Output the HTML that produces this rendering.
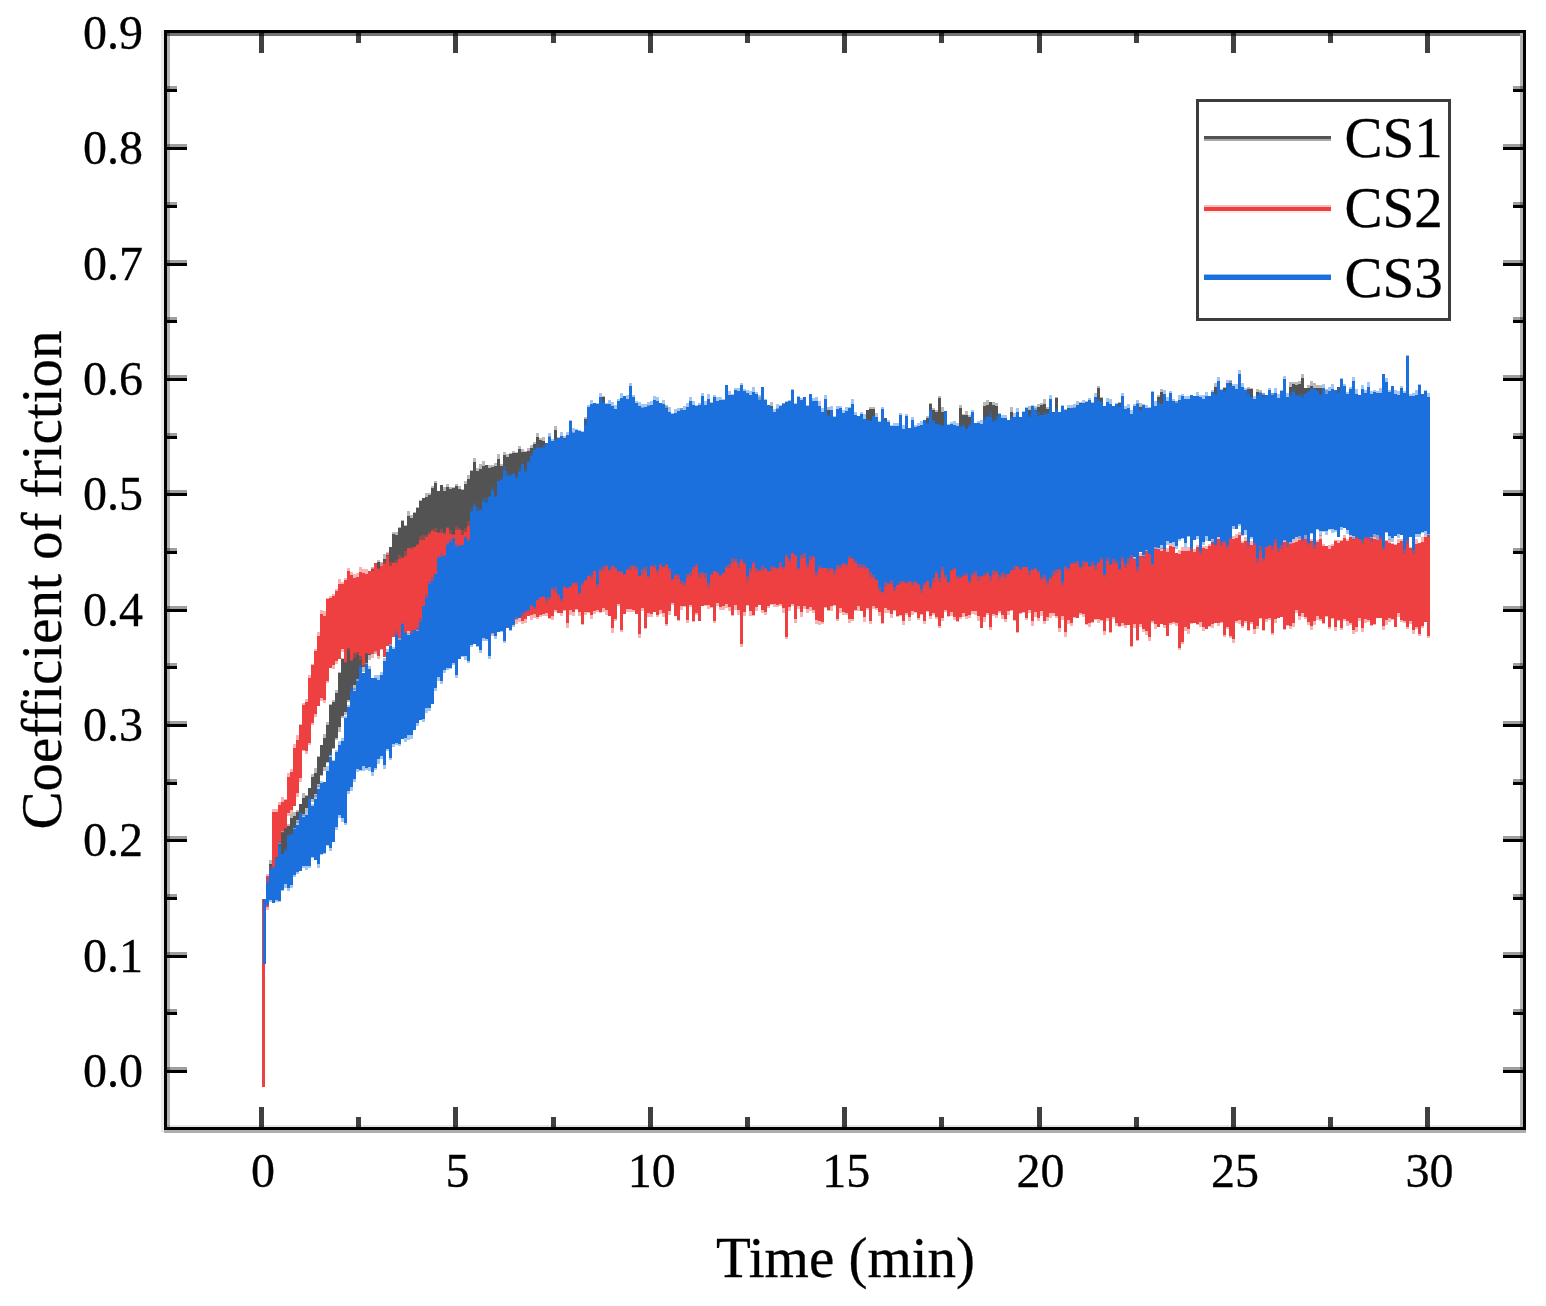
<!DOCTYPE html>
<html><head><meta charset="utf-8"><title>Coefficient of friction</title>
<style>html,body{margin:0;padding:0;background:#fff}svg{display:block}</style></head>
<body><svg width="1546" height="1306" viewBox="0 0 1546 1306" shape-rendering="crispEdges">
<rect width="1546" height="1306" fill="#fff"/>
<g><rect x="262" y="899" width="3" height="188" fill="#ee4040"/><rect x="263" y="899" width="3" height="65" fill="#1b70de"/><path fill="#535353" fill-opacity="0.4" d="M266.0,878.6H269.0V859.7H272.0V858.8H275.0V849.3H278.0V843.2H281.0V828.2H284.0V814.8H287.0V823.5H290.0V814.3H293.0V811.7H296.0V809.9H299.0V804.0H302.0V793.4H305.0V794.6H308.0V788.2H311.0V774.1H314.0V768.3H317.0V756.2H320.0V744.9H323.0V734.2H326.0V721.6H329.0V703.5H332.0V700.3H335.0V689.6H338.0V672.4H341.0V657.8H344.0V645.7H347.0V643.5H350.0V635.8H353.0V628.3H356.0V613.7H359.0V605.3H362.0V597.4H365.0V585.4H368.0V578.8H371.0V567.1H374.0V566.4H377.0V559.7H380.0V561.6H383.0V554.3H386.0V553.1H389.0V546.5H392.0V532.4H395.0V532.0H398.0V527.1H401.0V519.9H404.0V525.0H407.0V511.3H410.0V514.8H413.0V512.2H416.0V506.9H419.0V499.6H422.0V497.7H425.0V492.7H428.0V493.1H431.0V485.5H434.0V481.1H437.0V491.0H440.0V484.9H443.0V487.0H446.0V484.2H449.0V486.7H452.0V487.1H455.0V484.2H458.0V486.1H461.0V488.6H464.0V481.4H467.0V475.2H470.0V470.1H473.0V457.6H476.0V468.2H479.0V464.2H482.0V460.9H485.0V464.5H488.0V464.9H491.0V465.3H494.0V463.2H497.0V454.3H500.0V464.0H503.0V451.7H506.0V453.9H509.0V453.2H512.0V450.9H515.0V451.9H518.0V446.1H521.0V448.5H524.0V450.8H527.0V448.1H530.0V445.0H533.0V441.8H536.0V432.9H539.0V438.2H542.0V436.5H545.0V445.1H548.0V436.2H551.0V444.4H554.0V425.6H557.0V437.8H560.0V447.6H563.0V436.4H566.0V439.4H569.0V435.8H572.0V432.3H575.0V436.0H578.0V439.2H581.0V435.8H584.0V416.5H587.0V417.6H590.0V416.0H593.0V407.7H596.0V408.9H599.0V409.9H602.0V396.1H605.0V407.9H608.0V412.3H611.0V413.9H614.0V409.9H617.0V402.8H620.0V409.7H623.0V404.0H626.0V408.7H629.0V408.3H632.0V411.4H635.0V412.3H638.0V407.6H641.0V407.4H644.0V410.2H647.0V405.3H650.0V404.8H653.0V402.0H656.0V407.3H659.0V403.7H662.0V407.0H665.0V404.5H668.0V415.5H671.0V418.2H674.0V417.9H677.0V415.0H680.0V408.3H683.0V413.7H686.0V410.1H689.0V412.5H692.0V409.3H695.0V411.0H698.0V412.9H701.0V403.3H704.0V413.0H707.0V408.4H710.0V401.6H713.0V410.9H716.0V404.1H719.0V403.8H722.0V404.4H725.0V399.1H728.0V404.9H731.0V402.0H734.0V402.0H737.0V399.4H740.0V395.4H743.0V399.7H746.0V401.1H749.0V401.2H752.0V399.2H755.0V401.8H758.0V396.6H761.0V406.3H764.0V403.3H767.0V407.2H770.0V401.8H773.0V415.0H776.0V408.4H779.0V413.3H782.0V403.3H785.0V409.5H788.0V407.1H791.0V406.8H794.0V407.7H797.0V400.2H800.0V409.9H803.0V410.6H806.0V411.1H809.0V412.2H812.0V408.6H815.0V408.7H818.0V412.3H821.0V415.4H824.0V420.3H827.0V406.8H830.0V414.3H833.0V420.5H836.0V419.2H839.0V419.3H842.0V420.0H845.0V414.5H848.0V411.5H851.0V409.1H854.0V419.5H857.0V418.6H860.0V420.5H863.0V423.2H866.0V409.6H869.0V406.7H872.0V406.8H875.0V420.8H878.0V422.9H881.0V429.5H884.0V417.5H887.0V428.7H890.0V428.7H893.0V431.8H896.0V435.4H899.0V435.0H902.0V431.7H905.0V435.1H908.0V434.2H911.0V430.2H914.0V429.9H917.0V430.6H920.0V428.6H923.0V433.3H926.0V415.9H929.0V402.6H932.0V408.4H935.0V410.0H938.0V396.0H941.0V407.2H944.0V432.6H947.0V434.3H950.0V429.1H953.0V430.6H956.0V431.9H959.0V405.1H962.0V413.5H965.0V411.3H968.0V415.3H971.0V430.0H974.0V427.9H977.0V429.9H980.0V429.0H983.0V402.4H986.0V400.0H989.0V402.0H992.0V402.3H995.0V402.9H998.0V425.8H1001.0V420.5H1004.0V422.9H1007.0V424.0H1010.0V407.3H1013.0V424.0H1016.0V418.6H1019.0V420.1H1022.0V420.4H1025.0V422.0H1028.0V406.3H1031.0V408.3H1034.0V408.0H1037.0V404.1H1040.0V402.6H1043.0V399.2H1046.0V407.0H1049.0V400.6H1052.0V411.7H1055.0V396.8H1058.0V419.0H1061.0V410.5H1064.0V409.5H1067.0V407.6H1070.0V413.2H1073.0V406.5H1076.0V405.0H1079.0V402.4H1082.0V402.9H1085.0V404.9H1088.0V411.5H1091.0V406.5H1094.0V408.8H1097.0V386.3H1100.0V397.4H1103.0V412.5H1106.0V408.7H1109.0V403.7H1112.0V408.2H1115.0V412.5H1118.0V402.0H1121.0V417.4H1124.0V417.1H1127.0V409.6H1130.0V418.3H1133.0V420.8H1136.0V403.3H1139.0V402.7H1142.0V414.0H1145.0V411.5H1148.0V412.1H1151.0V407.7H1154.0V410.6H1157.0V394.8H1160.0V388.7H1163.0V412.1H1166.0V407.7H1169.0V402.4H1172.0V405.8H1175.0V401.4H1178.0V399.9H1181.0V401.1H1184.0V404.1H1187.0V399.8H1190.0V406.6H1193.0V399.2H1196.0V405.6H1199.0V399.0H1202.0V403.0H1205.0V403.2H1208.0V402.9H1211.0V397.6H1214.0V383.0H1217.0V398.7H1220.0V395.5H1223.0V387.1H1226.0V390.1H1229.0V380.0H1232.0V390.6H1235.0V393.7H1238.0V386.6H1241.0V386.9H1244.0V394.7H1247.0V387.0H1250.0V387.7H1253.0V399.6H1256.0V388.5H1259.0V390.1H1262.0V392.7H1265.0V399.1H1268.0V394.3H1271.0V392.6H1274.0V393.9H1277.0V403.3H1280.0V403.6H1283.0V396.8H1286.0V399.6H1289.0V381.7H1292.0V382.3H1295.0V381.5H1298.0V381.0H1301.0V373.8H1304.0V387.9H1307.0V384.7H1310.0V381.3H1313.0V382.8H1316.0V385.4H1319.0V385.2H1322.0V388.4H1325.0V390.3H1328.0V398.6H1331.0V394.1H1334.0V396.5H1337.0V387.1H1340.0V398.6H1343.0V400.1H1346.0V401.4H1349.0V397.5H1352.0V398.0H1355.0V394.9H1358.0V398.8H1361.0V402.4H1364.0V401.2H1367.0V395.3H1370.0V398.7H1373.0V398.8H1376.0V397.5H1379.0V396.5H1382.0V396.6H1385.0V390.5H1388.0V401.1H1391.0V394.6H1394.0V400.9H1397.0V397.7H1400.0V397.8H1403.0V399.0H1406.0V396.3H1409.0V396.5H1412.0V402.7H1415.0V404.5H1418.0V385.2H1421.0V400.4H1424.0V392.9H1427.0V406.3H1429.5V475.2H1427.0V470.7H1424.0V474.1H1421.0V475.8H1418.0V473.4H1415.0V470.1H1412.0V474.2H1409.0V476.5H1406.0V475.3H1403.0V474.2H1400.0V474.8H1397.0V470.4H1394.0V471.7H1391.0V469.4H1388.0V472.1H1385.0V473.7H1382.0V476.9H1379.0V472.3H1376.0V474.4H1373.0V474.1H1370.0V473.1H1367.0V476.5H1364.0V471.3H1361.0V472.2H1358.0V470.9H1355.0V475.5H1352.0V473.5H1349.0V471.9H1346.0V470.9H1343.0V473.4H1340.0V480.5H1337.0V470.4H1334.0V474.4H1331.0V472.8H1328.0V474.5H1325.0V474.7H1322.0V481.4H1319.0V471.1H1316.0V471.4H1313.0V478.1H1310.0V483.2H1307.0V470.5H1304.0V472.2H1301.0V474.3H1298.0V473.7H1295.0V471.2H1292.0V476.7H1289.0V474.9H1286.0V475.0H1283.0V473.3H1280.0V473.2H1277.0V472.6H1274.0V469.3H1271.0V479.9H1268.0V473.4H1265.0V469.7H1262.0V473.2H1259.0V473.4H1256.0V477.1H1253.0V475.0H1250.0V469.7H1247.0V470.6H1244.0V473.8H1241.0V476.5H1238.0V475.0H1235.0V474.1H1232.0V473.9H1229.0V470.6H1226.0V473.2H1223.0V471.7H1220.0V475.2H1217.0V470.2H1214.0V479.2H1211.0V475.6H1208.0V470.8H1205.0V474.4H1202.0V471.8H1199.0V470.8H1196.0V477.7H1193.0V473.0H1190.0V474.1H1187.0V472.6H1184.0V474.5H1181.0V474.0H1178.0V471.2H1175.0V472.4H1172.0V470.5H1169.0V471.9H1166.0V475.2H1163.0V470.7H1160.0V474.6H1157.0V472.0H1154.0V469.8H1151.0V471.1H1148.0V474.4H1145.0V471.3H1142.0V472.7H1139.0V473.2H1136.0V470.7H1133.0V472.6H1130.0V472.8H1127.0V474.1H1124.0V475.4H1121.0V470.2H1118.0V472.9H1115.0V479.3H1112.0V470.5H1109.0V475.4H1106.0V470.1H1103.0V472.9H1100.0V472.6H1097.0V473.0H1094.0V471.9H1091.0V471.9H1088.0V474.4H1085.0V472.3H1082.0V474.1H1079.0V469.4H1076.0V477.1H1073.0V470.3H1070.0V475.7H1067.0V473.5H1064.0V471.7H1061.0V472.4H1058.0V475.6H1055.0V471.5H1052.0V473.2H1049.0V474.4H1046.0V470.4H1043.0V475.2H1040.0V472.9H1037.0V476.0H1034.0V473.3H1031.0V472.9H1028.0V473.1H1025.0V477.2H1022.0V470.4H1019.0V472.8H1016.0V473.2H1013.0V471.4H1010.0V472.8H1007.0V470.4H1004.0V472.3H1001.0V471.9H998.0V474.2H995.0V475.2H992.0V475.5H989.0V470.7H986.0V475.0H983.0V473.0H980.0V470.0H977.0V472.7H974.0V472.4H971.0V473.8H968.0V475.0H965.0V474.0H962.0V469.8H959.0V470.0H956.0V473.4H953.0V474.8H950.0V476.9H947.0V473.5H944.0V471.5H941.0V476.8H938.0V471.0H935.0V477.4H932.0V473.3H929.0V477.3H926.0V475.7H923.0V471.3H920.0V473.2H917.0V477.6H914.0V478.4H911.0V473.5H908.0V474.3H905.0V474.2H902.0V472.2H899.0V473.3H896.0V471.8H893.0V472.0H890.0V471.2H887.0V473.9H884.0V470.0H881.0V474.2H878.0V474.1H875.0V471.7H872.0V471.9H869.0V476.5H866.0V475.7H863.0V473.9H860.0V470.0H857.0V473.2H854.0V478.4H851.0V473.4H848.0V474.8H845.0V472.4H842.0V474.2H839.0V475.6H836.0V474.7H833.0V472.9H830.0V475.6H827.0V469.8H824.0V474.5H821.0V473.8H818.0V470.2H815.0V471.4H812.0V472.9H809.0V474.5H806.0V478.1H803.0V475.4H800.0V474.1H797.0V476.4H794.0V473.4H791.0V470.6H788.0V471.3H785.0V471.5H782.0V471.9H779.0V472.9H776.0V473.6H773.0V473.0H770.0V477.0H767.0V472.4H764.0V471.3H761.0V475.9H758.0V474.3H755.0V471.6H752.0V471.1H749.0V474.7H746.0V471.2H743.0V474.6H740.0V473.4H737.0V474.1H734.0V472.7H731.0V475.6H728.0V470.6H725.0V473.7H722.0V478.7H719.0V471.6H716.0V472.8H713.0V471.8H710.0V472.8H707.0V472.6H704.0V471.7H701.0V469.9H698.0V470.0H695.0V474.3H692.0V474.7H689.0V475.4H686.0V475.1H683.0V472.1H680.0V478.5H677.0V476.2H674.0V473.0H671.0V475.6H668.0V473.5H665.0V478.0H662.0V477.4H659.0V476.7H656.0V483.1H653.0V479.5H650.0V478.6H647.0V477.9H644.0V478.4H641.0V478.7H638.0V479.1H635.0V481.0H632.0V484.3H629.0V481.5H626.0V481.8H623.0V479.9H620.0V481.7H617.0V483.4H614.0V481.5H611.0V480.7H608.0V484.5H605.0V482.8H602.0V479.8H599.0V482.7H596.0V486.7H593.0V486.8H590.0V489.0H587.0V487.1H584.0V492.1H581.0V490.3H578.0V491.2H575.0V492.8H572.0V495.2H569.0V497.2H566.0V498.1H563.0V496.1H560.0V499.8H557.0V502.5H554.0V515.4H551.0V507.4H548.0V508.0H545.0V517.7H542.0V515.2H539.0V515.2H536.0V513.3H533.0V519.4H530.0V518.9H527.0V521.1H524.0V523.8H521.0V526.8H518.0V529.5H515.0V530.0H512.0V533.2H509.0V538.3H506.0V540.3H503.0V541.4H500.0V544.3H497.0V544.9H494.0V551.7H491.0V554.5H488.0V554.3H485.0V556.0H482.0V558.0H479.0V560.8H476.0V564.5H473.0V564.0H470.0V569.5H467.0V570.5H464.0V573.8H461.0V578.4H458.0V579.0H455.0V582.3H452.0V581.8H449.0V581.6H446.0V590.8H443.0V589.5H440.0V589.7H437.0V598.2H434.0V594.0H431.0V597.0H428.0V596.9H425.0V600.2H422.0V604.1H419.0V608.0H416.0V608.1H413.0V611.9H410.0V612.9H407.0V612.7H404.0V615.5H401.0V619.4H398.0V623.0H395.0V628.3H392.0V635.1H389.0V642.3H386.0V642.4H383.0V646.9H380.0V648.8H377.0V654.1H374.0V652.2H371.0V660.0H368.0V665.1H365.0V671.8H362.0V670.7H359.0V682.1H356.0V689.7H353.0V696.9H350.0V701.7H347.0V715.1H344.0V717.8H341.0V731.5H338.0V740.2H335.0V749.3H332.0V755.8H329.0V763.0H326.0V770.8H323.0V775.8H320.0V787.1H317.0V796.9H314.0V802.4H311.0V806.6H308.0V811.5H305.0V816.3H302.0V819.2H299.0V822.9H296.0V830.2H293.0V844.5H290.0V854.6H287.0V861.4H284.0V878.4H281.0V883.1H278.0V888.3H275.0V898.6H272.0V895.6H269.0V897.4H266.0Z"/><path fill="#535353" d="M266.0,878.7H269.0V864.3H272.0V861.2H275.0V851.7H278.0V843.6H281.0V832.1H284.0V816.1H287.0V825.8H290.0V817.9H293.0V815.6H296.0V811.8H299.0V804.3H302.0V798.4H305.0V795.8H308.0V788.4H311.0V777.2H314.0V772.6H317.0V756.6H320.0V745.2H323.0V737.6H326.0V724.5H329.0V704.8H332.0V701.6H335.0V693.4H338.0V672.5H341.0V659.0H344.0V647.5H347.0V647.4H350.0V637.4H353.0V628.5H356.0V617.4H359.0V608.7H362.0V598.1H365.0V589.1H368.0V581.9H371.0V569.0H374.0V569.3H377.0V562.2H380.0V565.5H383.0V559.1H386.0V554.8H389.0V547.0H392.0V534.2H395.0V535.0H398.0V528.4H401.0V520.7H404.0V526.0H407.0V515.5H410.0V518.4H413.0V512.8H416.0V508.4H419.0V500.9H422.0V498.3H425.0V496.9H428.0V494.5H431.0V488.4H434.0V483.0H437.0V491.3H440.0V485.1H443.0V490.5H446.0V487.3H449.0V489.2H452.0V487.9H455.0V485.9H458.0V488.7H461.0V489.7H464.0V484.3H467.0V479.4H470.0V471.0H473.0V462.3H476.0V470.8H479.0V469.1H482.0V465.7H485.0V464.8H488.0V468.3H491.0V466.5H494.0V466.3H497.0V458.7H500.0V466.3H503.0V455.0H506.0V457.2H509.0V454.1H512.0V453.0H515.0V453.3H518.0V448.5H521.0V452.3H524.0V451.5H527.0V450.9H530.0V447.5H533.0V443.7H536.0V437.1H539.0V439.9H542.0V440.5H545.0V445.5H548.0V438.4H551.0V444.9H554.0V429.8H557.0V441.2H560.0V448.7H563.0V438.3H566.0V440.0H569.0V440.2H572.0V436.7H575.0V440.5H578.0V442.3H581.0V437.1H584.0V418.7H587.0V420.9H590.0V418.1H593.0V408.0H596.0V411.6H599.0V410.3H602.0V397.3H605.0V412.0H608.0V415.4H611.0V417.9H614.0V413.3H617.0V406.1H620.0V411.0H623.0V407.5H626.0V409.3H629.0V408.4H632.0V413.1H635.0V413.1H638.0V411.1H641.0V408.8H644.0V410.3H647.0V409.2H650.0V409.5H653.0V405.5H656.0V412.1H659.0V407.6H662.0V411.6H665.0V407.9H668.0V419.4H671.0V422.1H674.0V418.5H677.0V416.6H680.0V411.4H683.0V415.3H686.0V414.4H689.0V412.7H692.0V410.0H695.0V412.7H698.0V414.7H701.0V407.5H704.0V413.1H707.0V412.6H710.0V406.5H713.0V411.1H716.0V408.9H719.0V407.1H722.0V405.1H725.0V403.2H728.0V405.5H731.0V403.9H734.0V403.2H737.0V401.3H740.0V396.1H743.0V401.6H746.0V404.0H749.0V403.5H752.0V401.8H755.0V406.2H758.0V400.9H761.0V406.8H764.0V407.0H767.0V411.2H770.0V406.3H773.0V416.9H776.0V413.0H779.0V416.1H782.0V405.6H785.0V412.0H788.0V409.2H791.0V410.2H794.0V410.4H797.0V404.5H800.0V412.2H803.0V410.8H806.0V411.9H809.0V414.3H812.0V410.9H815.0V412.7H818.0V415.2H821.0V416.3H824.0V421.8H827.0V409.5H830.0V418.3H833.0V424.1H836.0V422.4H839.0V420.6H842.0V422.9H845.0V415.7H848.0V411.9H851.0V412.8H854.0V422.7H857.0V423.5H860.0V424.2H863.0V424.4H866.0V409.7H869.0V408.9H872.0V408.5H875.0V423.3H878.0V424.8H881.0V429.7H884.0V417.9H887.0V430.4H890.0V431.6H893.0V432.7H896.0V436.3H899.0V436.2H902.0V435.5H905.0V439.0H908.0V436.6H911.0V430.5H914.0V434.6H917.0V435.0H920.0V430.1H923.0V433.3H926.0V418.4H929.0V403.5H932.0V410.3H935.0V412.0H938.0V397.5H941.0V411.8H944.0V434.6H947.0V434.8H950.0V432.0H953.0V435.1H956.0V433.1H959.0V407.7H962.0V415.4H965.0V414.7H968.0V416.9H971.0V431.3H974.0V432.7H977.0V434.0H980.0V432.5H983.0V405.6H986.0V404.6H989.0V402.2H992.0V404.5H995.0V406.0H998.0V426.5H1001.0V425.5H1004.0V426.3H1007.0V427.8H1010.0V412.1H1013.0V426.9H1016.0V423.2H1019.0V422.0H1022.0V425.0H1025.0V424.6H1028.0V410.1H1031.0V409.7H1034.0V410.4H1037.0V406.8H1040.0V405.2H1043.0V403.8H1046.0V409.3H1049.0V404.9H1052.0V412.3H1055.0V397.9H1058.0V419.8H1061.0V411.4H1064.0V412.4H1067.0V408.1H1070.0V416.6H1073.0V410.8H1076.0V409.7H1079.0V402.6H1082.0V404.1H1085.0V407.1H1088.0V411.6H1091.0V409.8H1094.0V411.1H1097.0V388.4H1100.0V398.2H1103.0V412.8H1106.0V413.2H1109.0V406.7H1112.0V409.9H1115.0V416.9H1118.0V402.6H1121.0V419.4H1124.0V417.4H1127.0V413.6H1130.0V422.7H1133.0V422.2H1136.0V407.4H1139.0V407.4H1142.0V415.1H1145.0V416.4H1148.0V413.8H1151.0V411.2H1154.0V413.3H1157.0V396.6H1160.0V391.7H1163.0V412.1H1166.0V410.2H1169.0V404.9H1172.0V409.0H1175.0V405.2H1178.0V404.3H1181.0V405.1H1184.0V408.5H1187.0V401.7H1190.0V407.2H1193.0V402.5H1196.0V405.8H1199.0V403.8H1202.0V405.4H1205.0V404.5H1208.0V403.1H1211.0V401.8H1214.0V387.2H1217.0V399.4H1220.0V399.4H1223.0V387.5H1226.0V393.6H1229.0V382.7H1232.0V393.8H1235.0V394.4H1238.0V390.6H1241.0V390.9H1244.0V398.9H1247.0V389.0H1250.0V389.0H1253.0V402.3H1256.0V392.0H1259.0V393.9H1262.0V395.0H1265.0V402.2H1268.0V397.6H1271.0V395.5H1274.0V397.5H1277.0V404.8H1280.0V404.8H1283.0V398.3H1286.0V403.6H1289.0V386.5H1292.0V383.9H1295.0V384.8H1298.0V383.9H1301.0V378.2H1304.0V388.0H1307.0V387.8H1310.0V385.6H1313.0V387.7H1316.0V387.5H1319.0V387.6H1322.0V392.6H1325.0V395.0H1328.0V399.8H1331.0V398.5H1334.0V397.1H1337.0V387.4H1340.0V398.7H1343.0V400.5H1346.0V401.8H1349.0V398.6H1352.0V399.5H1355.0V399.8H1358.0V402.8H1361.0V402.9H1364.0V402.2H1367.0V398.8H1370.0V401.7H1373.0V401.1H1376.0V399.6H1379.0V400.2H1382.0V399.1H1385.0V394.1H1388.0V401.2H1391.0V395.1H1394.0V401.8H1397.0V400.7H1400.0V400.8H1403.0V403.4H1406.0V400.8H1409.0V400.5H1412.0V404.3H1415.0V404.8H1418.0V389.6H1421.0V405.0H1424.0V393.1H1427.0V406.3H1429.5V474.5H1427.0V470.5H1424.0V469.7H1421.0V473.8H1418.0V469.5H1415.0V469.6H1412.0V470.9H1409.0V472.4H1406.0V470.8H1403.0V472.8H1400.0V473.0H1397.0V469.2H1394.0V469.8H1391.0V469.1H1388.0V471.5H1385.0V470.5H1382.0V472.2H1379.0V471.5H1376.0V472.6H1373.0V469.6H1370.0V470.5H1367.0V474.4H1364.0V470.9H1361.0V470.0H1358.0V470.1H1355.0V472.5H1352.0V470.3H1349.0V471.8H1346.0V470.4H1343.0V469.1H1340.0V476.4H1337.0V470.3H1334.0V469.9H1331.0V471.7H1328.0V472.0H1325.0V471.3H1322.0V479.8H1319.0V469.0H1316.0V469.7H1313.0V473.5H1310.0V479.6H1307.0V469.6H1304.0V469.9H1301.0V470.6H1298.0V471.2H1295.0V469.3H1292.0V471.8H1289.0V472.5H1286.0V470.1H1283.0V469.8H1280.0V469.1H1277.0V470.5H1274.0V469.1H1271.0V478.4H1268.0V470.6H1265.0V469.0H1262.0V471.3H1259.0V469.5H1256.0V476.7H1253.0V474.3H1250.0V469.0H1247.0V469.7H1244.0V469.8H1241.0V472.4H1238.0V472.6H1235.0V469.9H1232.0V470.0H1229.0V469.0H1226.0V470.3H1223.0V469.0H1220.0V473.1H1217.0V470.1H1214.0V478.4H1211.0V471.0H1208.0V469.5H1205.0V471.0H1202.0V470.1H1199.0V469.6H1196.0V473.6H1193.0V471.3H1190.0V472.9H1187.0V470.5H1184.0V470.9H1181.0V471.6H1178.0V471.0H1175.0V470.8H1172.0V469.9H1169.0V470.9H1166.0V472.3H1163.0V469.1H1160.0V470.6H1157.0V470.3H1154.0V469.1H1151.0V469.4H1148.0V473.2H1145.0V469.0H1142.0V471.3H1139.0V473.1H1136.0V470.1H1133.0V469.0H1130.0V472.7H1127.0V472.3H1124.0V470.7H1121.0V469.1H1118.0V469.8H1115.0V476.7H1112.0V469.7H1109.0V474.0H1106.0V470.0H1103.0V469.2H1100.0V470.3H1097.0V469.7H1094.0V470.1H1091.0V469.0H1088.0V471.1H1085.0V469.3H1082.0V470.3H1079.0V469.3H1076.0V473.9H1073.0V469.5H1070.0V472.2H1067.0V469.1H1064.0V469.7H1061.0V471.1H1058.0V470.8H1055.0V471.3H1052.0V470.7H1049.0V471.2H1046.0V469.0H1043.0V471.9H1040.0V469.3H1037.0V474.6H1034.0V469.4H1031.0V471.8H1028.0V470.4H1025.0V472.9H1022.0V469.4H1019.0V471.4H1016.0V469.0H1013.0V469.2H1010.0V469.6H1007.0V469.1H1004.0V469.7H1001.0V469.2H998.0V471.2H995.0V472.6H992.0V470.7H989.0V469.3H986.0V470.5H983.0V472.7H980.0V469.3H977.0V469.3H974.0V470.6H971.0V473.0H968.0V470.0H965.0V469.6H962.0V469.3H959.0V469.4H956.0V471.1H953.0V472.8H950.0V475.8H947.0V470.6H944.0V469.8H941.0V472.8H938.0V469.1H935.0V474.4H932.0V469.1H929.0V473.5H926.0V471.2H923.0V469.0H920.0V472.1H917.0V473.2H914.0V474.3H911.0V470.6H908.0V469.5H905.0V470.1H902.0V470.1H899.0V469.1H896.0V469.4H893.0V469.1H890.0V469.6H887.0V470.0H884.0V469.1H881.0V470.4H878.0V470.4H875.0V469.7H872.0V469.1H869.0V474.5H866.0V471.1H863.0V473.5H860.0V469.1H857.0V469.3H854.0V476.3H851.0V471.1H848.0V471.1H845.0V469.2H842.0V469.7H839.0V472.3H836.0V470.0H833.0V471.5H830.0V472.3H827.0V469.5H824.0V473.3H821.0V469.0H818.0V470.1H815.0V471.2H812.0V472.1H809.0V471.2H806.0V473.7H803.0V474.2H800.0V469.8H797.0V473.4H794.0V471.3H791.0V469.8H788.0V470.4H785.0V469.5H782.0V469.2H779.0V469.0H776.0V469.0H773.0V472.6H770.0V475.1H767.0V470.9H764.0V471.2H761.0V470.9H758.0V473.5H755.0V469.7H752.0V471.0H749.0V469.9H746.0V469.8H743.0V470.2H740.0V470.6H737.0V470.2H734.0V470.3H731.0V471.4H728.0V469.9H725.0V470.9H722.0V473.9H719.0V470.5H716.0V469.7H713.0V471.2H710.0V469.5H707.0V470.1H704.0V470.6H701.0V469.6H698.0V469.4H695.0V469.7H692.0V470.9H689.0V471.2H686.0V473.3H683.0V471.2H680.0V474.0H677.0V474.7H674.0V472.3H671.0V473.7H668.0V473.4H665.0V473.4H662.0V474.2H659.0V474.0H656.0V483.0H653.0V475.0H650.0V475.6H647.0V477.1H644.0V476.5H641.0V475.7H638.0V476.0H635.0V476.4H632.0V484.1H629.0V476.8H626.0V477.7H623.0V479.3H620.0V478.9H617.0V479.3H614.0V478.1H611.0V478.3H608.0V484.0H605.0V479.1H602.0V479.0H599.0V480.5H596.0V485.4H593.0V485.7H590.0V485.8H587.0V486.8H584.0V487.8H581.0V487.4H578.0V490.2H575.0V491.2H572.0V491.5H569.0V493.2H566.0V497.6H563.0V496.0H560.0V497.2H557.0V499.5H554.0V512.6H551.0V504.9H548.0V503.3H545.0V512.9H542.0V511.0H539.0V511.3H536.0V511.4H533.0V517.4H530.0V517.4H527.0V520.9H524.0V521.2H521.0V523.4H518.0V527.8H515.0V528.3H512.0V532.6H509.0V535.3H506.0V538.4H503.0V538.5H500.0V540.5H497.0V544.1H494.0V546.8H491.0V549.7H488.0V553.9H485.0V553.1H482.0V555.2H479.0V557.2H476.0V559.6H473.0V562.0H470.0V566.0H467.0V566.6H464.0V573.5H461.0V576.6H458.0V574.7H455.0V578.4H452.0V579.4H449.0V580.9H446.0V586.2H443.0V585.6H440.0V589.4H437.0V596.6H434.0V592.5H431.0V593.9H428.0V596.0H425.0V598.7H422.0V603.3H419.0V603.5H416.0V604.3H413.0V608.6H410.0V611.8H407.0V611.8H404.0V613.1H401.0V617.5H398.0V621.1H395.0V625.7H392.0V630.9H389.0V637.5H386.0V639.9H383.0V643.8H380.0V645.6H377.0V649.3H374.0V651.5H371.0V655.2H368.0V662.5H365.0V667.4H362.0V670.7H359.0V678.9H356.0V684.8H353.0V694.7H350.0V699.5H347.0V712.1H344.0V716.0H341.0V727.4H338.0V737.6H335.0V747.6H332.0V754.5H329.0V762.0H326.0V767.0H323.0V774.6H320.0V784.2H317.0V793.8H314.0V799.2H311.0V802.2H308.0V807.8H305.0V813.6H302.0V816.4H299.0V820.4H296.0V827.5H293.0V839.6H290.0V853.0H287.0V860.5H284.0V874.4H281.0V879.8H278.0V886.0H275.0V895.0H272.0V893.8H269.0V896.5H266.0Z"/><path fill="#ee4040" fill-opacity="0.4" d="M265.5,874.4H268.5V865.6H271.5V808.5H274.5V808.6H277.5V802.4H280.5V797.3H283.5V799.1H286.5V772.7H289.5V768.5H292.5V744.2H295.5V735.3H298.5V724.3H301.5V703.4H304.5V698.5H307.5V674.5H310.5V664.1H313.5V648.5H316.5V631.5H319.5V609.5H322.5V611.2H325.5V598.2H328.5V595.9H331.5V593.6H334.5V588.6H337.5V579.3H340.5V581.8H343.5V578.1H346.5V568.1H349.5V571.5H352.5V574.4H355.5V572.7H358.5V566.6H361.5V569.3H364.5V569.4H367.5V571.0H370.5V568.0H373.5V562.8H376.5V567.9H379.5V563.2H382.5V560.6H385.5V552.1H388.5V562.3H391.5V561.7H394.5V560.3H397.5V555.0H400.5V556.6H403.5V551.1H406.5V548.1H409.5V546.7H412.5V547.1H415.5V543.7H418.5V536.2H421.5V534.6H424.5V534.7H427.5V532.4H430.5V529.1H433.5V527.5H436.5V531.8H439.5V528.7H442.5V532.1H445.5V526.6H448.5V529.8H451.5V534.0H454.5V525.7H457.5V527.7H460.5V529.9H463.5V528.2H466.5V521.4H469.5V631.9H472.5V628.1H475.5V627.8H478.5V625.5H481.5V622.1H484.5V622.7H487.5V617.5H490.5V610.9H493.5V616.2H496.5V611.6H499.5V613.0H502.5V614.7H505.5V614.2H508.5V606.1H511.5V601.6H514.5V598.3H517.5V602.5H520.5V598.0H523.5V591.5H526.5V590.5H529.5V592.9H532.5V589.8H535.5V585.5H538.5V579.1H541.5V576.5H544.5V576.4H547.5V577.3H550.5V574.7H553.5V575.4H556.5V567.9H559.5V573.2H562.5V573.6H565.5V569.4H568.5V568.5H571.5V564.7H574.5V566.3H577.5V562.1H580.5V561.9H583.5V562.3H586.5V557.4H589.5V555.3H592.5V557.8H595.5V544.5H598.5V556.3H601.5V553.8H604.5V553.3H607.5V552.2H610.5V551.2H613.5V546.7H616.5V547.6H619.5V548.3H622.5V547.3H625.5V551.2H628.5V553.3H631.5V553.6H634.5V553.9H637.5V552.2H640.5V552.9H643.5V555.4H646.5V554.4H649.5V550.8H652.5V549.3H655.5V548.7H658.5V548.3H661.5V550.3H664.5V550.8H667.5V544.0H670.5V549.6H673.5V555.8H676.5V556.8H679.5V567.1H682.5V560.1H685.5V550.7H688.5V553.3H691.5V534.1H694.5V550.5H697.5V550.5H700.5V552.5H703.5V549.6H706.5V550.0H709.5V550.6H712.5V555.2H715.5V556.3H718.5V556.3H721.5V550.4H724.5V550.8H727.5V540.5H730.5V544.9H733.5V547.2H736.5V528.8H739.5V546.6H742.5V548.6H745.5V547.0H748.5V546.2H751.5V548.8H754.5V545.6H757.5V547.0H760.5V544.2H763.5V551.0H766.5V554.4H769.5V546.4H772.5V549.7H775.5V544.7H778.5V543.1H781.5V545.7H784.5V537.5H787.5V524.1H790.5V537.5H793.5V537.3H796.5V527.0H799.5V533.2H802.5V542.1H805.5V540.1H808.5V537.8H811.5V537.7H814.5V538.0H817.5V537.3H820.5V548.8H823.5V552.4H826.5V550.2H829.5V552.3H832.5V546.8H835.5V550.7H838.5V544.8H841.5V546.4H844.5V541.6H847.5V541.4H850.5V543.3H853.5V543.5H856.5V548.2H859.5V548.0H862.5V552.4H865.5V551.3H868.5V540.8H871.5V562.0H874.5V564.9H877.5V562.3H880.5V555.6H883.5V566.7H886.5V562.3H889.5V563.2H892.5V563.0H895.5V563.9H898.5V564.0H901.5V568.8H904.5V564.4H907.5V563.6H910.5V562.6H913.5V566.8H916.5V566.3H919.5V566.2H922.5V563.8H925.5V564.9H928.5V560.1H931.5V559.5H934.5V553.8H937.5V549.8H940.5V538.5H943.5V554.8H946.5V555.3H949.5V556.0H952.5V542.2H955.5V552.0H958.5V557.3H961.5V554.7H964.5V559.4H967.5V555.6H970.5V559.4H973.5V557.7H976.5V555.9H979.5V559.2H982.5V558.4H985.5V559.5H988.5V556.5H991.5V554.8H994.5V555.4H997.5V552.4H1000.5V556.7H1003.5V551.0H1006.5V554.5H1009.5V553.8H1012.5V552.4H1015.5V549.1H1018.5V547.7H1021.5V549.8H1024.5V542.4H1027.5V548.0H1030.5V551.4H1033.5V549.4H1036.5V553.1H1039.5V555.0H1042.5V545.4H1045.5V546.4H1048.5V560.2H1051.5V557.2H1054.5V558.1H1057.5V555.9H1060.5V552.0H1063.5V550.6H1066.5V547.3H1069.5V548.7H1072.5V548.1H1075.5V549.8H1078.5V538.9H1081.5V547.1H1084.5V543.9H1087.5V532.0H1090.5V545.4H1093.5V542.9H1096.5V541.4H1099.5V543.0H1102.5V537.3H1105.5V544.7H1108.5V541.3H1111.5V541.4H1114.5V543.4H1117.5V541.1H1120.5V538.6H1123.5V541.3H1126.5V543.1H1129.5V529.6H1132.5V557.8H1135.5V549.8H1138.5V552.9H1141.5V551.3H1144.5V545.8H1147.5V549.6H1150.5V550.7H1153.5V546.5H1156.5V547.6H1159.5V548.1H1162.5V545.4H1165.5V548.3H1168.5V544.1H1171.5V545.1H1174.5V552.8H1177.5V550.0H1180.5V546.8H1183.5V547.5H1186.5V547.1H1189.5V546.5H1192.5V548.5H1195.5V545.0H1198.5V545.4H1201.5V546.3H1204.5V546.4H1207.5V543.8H1210.5V539.8H1213.5V531.4H1216.5V534.3H1219.5V536.0H1222.5V529.4H1225.5V531.6H1228.5V534.0H1231.5V536.3H1234.5V533.7H1237.5V531.7H1240.5V540.5H1243.5V536.6H1246.5V539.1H1249.5V541.4H1252.5V538.4H1255.5V544.6H1258.5V537.3H1261.5V544.9H1264.5V543.0H1267.5V541.6H1270.5V535.6H1273.5V531.0H1276.5V539.2H1279.5V539.1H1282.5V537.2H1285.5V537.2H1288.5V541.0H1291.5V541.0H1294.5V537.5H1297.5V536.1H1300.5V536.7H1303.5V534.7H1306.5V540.2H1309.5V538.7H1312.5V541.0H1315.5V539.6H1318.5V534.8H1321.5V544.1H1324.5V545.8H1327.5V544.7H1330.5V543.8H1333.5V540.4H1336.5V539.7H1339.5V540.1H1342.5V535.2H1345.5V539.2H1348.5V535.8H1351.5V536.8H1354.5V535.7H1357.5V536.2H1360.5V535.6H1363.5V521.6H1366.5V524.8H1369.5V535.4H1372.5V534.3H1375.5V535.4H1378.5V532.9H1381.5V538.0H1384.5V539.9H1387.5V539.0H1390.5V542.8H1393.5V544.3H1396.5V539.3H1399.5V539.2H1402.5V542.4H1405.5V536.5H1408.5V546.9H1411.5V544.6H1414.5V538.9H1417.5V542.7H1420.5V536.9H1423.5V536.3H1426.5V534.0H1429.5V637.9H1426.5V622.2H1423.5V627.8H1420.5V636.2H1417.5V629.3H1414.5V633.7H1411.5V623.8H1408.5V629.2H1405.5V623.4H1402.5V622.2H1399.5V617.0H1396.5V627.0H1393.5V619.7H1390.5V622.2H1387.5V624.7H1384.5V630.0H1381.5V618.0H1378.5V618.2H1375.5V625.2H1372.5V626.2H1369.5V621.7H1366.5V623.4H1363.5V631.9H1360.5V621.3H1357.5V631.5H1354.5V633.6H1351.5V624.9H1348.5V626.2H1345.5V621.0H1342.5V629.9H1339.5V620.9H1336.5V630.6H1333.5V619.1H1330.5V629.4H1327.5V617.1H1324.5V623.9H1321.5V621.0H1318.5V620.2H1315.5V625.4H1312.5V630.4H1309.5V624.8H1306.5V618.8H1303.5V616.5H1300.5V619.6H1297.5V613.1H1294.5V627.4H1291.5V629.2H1288.5V626.4H1285.5V630.4H1282.5V617.3H1279.5V618.1H1276.5V622.5H1273.5V635.0H1270.5V620.3H1267.5V622.4H1264.5V630.9H1261.5V619.2H1258.5V628.8H1255.5V633.6H1252.5V623.8H1249.5V631.4H1246.5V622.8H1243.5V628.1H1240.5V624.2H1237.5V623.0H1234.5V643.3H1231.5V638.1H1228.5V629.4H1225.5V636.8H1222.5V623.4H1219.5V625.5H1216.5V623.4H1213.5V627.6H1210.5V627.4H1207.5V628.6H1204.5V630.7H1201.5V626.7H1198.5V624.7H1195.5V623.4H1192.5V623.9H1189.5V633.9H1186.5V630.6H1183.5V643.6H1180.5V650.2H1177.5V626.0H1174.5V623.9H1171.5V625.2H1168.5V635.8H1165.5V627.5H1162.5V623.9H1159.5V627.1H1156.5V628.8H1153.5V623.1H1150.5V641.4H1147.5V635.0H1144.5V632.4H1141.5V627.4H1138.5V640.7H1135.5V627.6H1132.5V647.3H1129.5V625.2H1126.5V628.4H1123.5V625.6H1120.5V627.1H1117.5V625.5H1114.5V618.5H1111.5V632.9H1108.5V621.4H1105.5V634.8H1102.5V620.7H1099.5V623.3H1096.5V619.6H1093.5V622.8H1090.5V626.7H1087.5V625.1H1084.5V617.1H1081.5V614.5H1078.5V617.5H1075.5V618.4H1072.5V626.1H1069.5V624.1H1066.5V636.9H1063.5V620.1H1060.5V632.1H1057.5V617.8H1054.5V616.3H1051.5V617.5H1048.5V620.7H1045.5V623.5H1042.5V615.8H1039.5V621.2H1036.5V616.8H1033.5V625.7H1030.5V613.2H1027.5V620.4H1024.5V613.2H1021.5V613.8H1018.5V633.2H1015.5V620.5H1012.5V610.6H1009.5V615.3H1006.5V621.7H1003.5V618.8H1000.5V612.6H997.5V617.7H994.5V616.2H991.5V630.1H988.5V615.2H985.5V622.1H982.5V628.2H979.5V621.0H976.5V615.1H973.5V613.7H970.5V617.8H967.5V618.7H964.5V616.5H961.5V618.9H958.5V621.5H955.5V620.1H952.5V616.3H949.5V617.4H946.5V611.7H943.5V621.1H940.5V628.2H937.5V619.4H934.5V614.9H931.5V619.4H928.5V611.8H925.5V623.5H922.5V614.6H919.5V620.4H916.5V613.0H913.5V614.5H910.5V620.9H907.5V615.1H904.5V625.4H901.5V616.3H898.5V616.7H895.5V611.1H892.5V617.9H889.5V612.6H886.5V612.6H883.5V624.3H880.5V616.2H877.5V610.1H874.5V608.7H871.5V624.1H868.5V610.4H865.5V621.8H862.5V610.8H859.5V610.7H856.5V610.5H853.5V621.2H850.5V622.7H847.5V614.8H844.5V615.2H841.5V613.1H838.5V620.6H835.5V606.0H832.5V610.5H829.5V611.2H826.5V608.2H823.5V623.9H820.5V624.6H817.5V624.1H814.5V613.4H811.5V611.4H808.5V612.5H805.5V609.1H802.5V616.7H799.5V609.0H796.5V623.3H793.5V605.8H790.5V611.2H787.5V638.8H784.5V613.0H781.5V605.6H778.5V606.6H775.5V606.5H772.5V605.0H769.5V608.4H766.5V614.9H763.5V613.4H760.5V605.2H757.5V611.2H754.5V615.8H751.5V615.9H748.5V605.6H745.5V616.2H742.5V647.3H739.5V615.0H736.5V610.3H733.5V616.3H730.5V610.9H727.5V607.7H724.5V610.2H721.5V610.0H718.5V605.9H715.5V623.2H712.5V608.2H709.5V608.9H706.5V605.9H703.5V605.9H700.5V620.6H697.5V614.9H694.5V622.3H691.5V606.5H688.5V623.2H685.5V607.4H682.5V610.1H679.5V620.7H676.5V616.3H673.5V605.1H670.5V614.8H667.5V626.3H664.5V616.5H661.5V613.9H658.5V616.7H655.5V611.6H652.5V617.2H649.5V616.9H646.5V628.8H643.5V610.6H640.5V637.7H637.5V614.3H634.5V612.2H631.5V612.3H628.5V611.6H625.5V614.0H622.5V632.4H619.5V606.0H616.5V621.4H613.5V633.0H610.5V616.4H607.5V614.6H604.5V612.0H601.5V613.2H598.5V611.5H595.5V614.3H592.5V618.6H589.5V612.7H586.5V614.9H583.5V625.2H580.5V616.4H577.5V609.8H574.5V615.5H571.5V614.6H568.5V627.8H565.5V610.7H562.5V616.0H559.5V612.7H556.5V611.8H553.5V620.3H550.5V619.0H547.5V616.2H544.5V616.1H541.5V617.1H538.5V618.9H535.5V618.4H532.5V619.8H529.5V616.4H526.5V623.2H523.5V624.2H520.5V622.0H517.5V624.1H514.5V621.4H511.5V627.1H508.5V628.4H505.5V634.4H502.5V628.6H499.5V625.7H496.5V625.0H493.5V635.6H490.5V625.8H487.5V626.0H484.5V625.3H481.5V632.8H478.5V633.1H475.5V636.6H472.5V635.6H469.5V631.1H466.5V623.4H463.5V625.3H460.5V622.6H457.5V636.7H454.5V621.5H451.5V625.5H448.5V640.7H445.5V625.2H442.5V625.8H439.5V629.0H436.5V627.3H433.5V626.7H430.5V635.3H427.5V629.1H424.5V632.5H421.5V628.9H418.5V632.8H415.5V635.3H412.5V640.8H409.5V633.8H406.5V638.2H403.5V631.7H400.5V641.2H397.5V651.3H394.5V637.1H391.5V646.0H388.5V645.9H385.5V657.1H382.5V650.3H379.5V658.9H376.5V651.6H373.5V658.1H370.5V654.3H367.5V654.1H364.5V666.8H361.5V659.6H358.5V655.1H355.5V658.0H352.5V661.0H349.5V649.9H346.5V662.7H343.5V652.4H340.5V659.3H337.5V664.4H334.5V669.1H331.5V668.4H328.5V682.6H325.5V702.5H322.5V701.1H319.5V706.2H316.5V716.9H313.5V724.8H310.5V744.8H307.5V754.0H304.5V751.2H301.5V782.4H298.5V796.6H295.5V805.7H292.5V813.6H289.5V815.7H286.5V829.3H283.5V832.7H280.5V843.4H277.5V858.5H274.5V882.6H271.5V885.2H268.5V910.2H265.5Z"/><path fill="#ee4040" d="M265.5,876.1H268.5V869.6H271.5V811.5H274.5V812.2H277.5V805.4H280.5V802.1H283.5V800.3H286.5V777.1H289.5V771.7H292.5V747.7H295.5V740.3H298.5V724.5H301.5V704.8H304.5V702.1H307.5V678.4H310.5V665.4H313.5V650.9H316.5V635.8H319.5V614.4H322.5V616.0H325.5V599.3H328.5V597.8H331.5V595.7H334.5V591.0H337.5V583.6H340.5V584.2H343.5V579.6H346.5V571.3H349.5V575.4H352.5V577.5H355.5V577.3H358.5V571.5H361.5V573.1H364.5V573.8H367.5V571.4H370.5V571.0H373.5V562.9H376.5V569.2H379.5V566.4H382.5V564.1H385.5V556.2H388.5V566.4H391.5V563.1H394.5V562.5H397.5V558.9H400.5V557.7H403.5V555.5H406.5V548.3H409.5V548.5H412.5V547.3H415.5V545.1H418.5V540.4H421.5V539.5H424.5V536.8H427.5V533.6H430.5V530.7H433.5V531.7H436.5V532.7H439.5V532.5H442.5V533.6H445.5V527.9H448.5V534.3H451.5V535.1H454.5V530.4H457.5V529.9H460.5V534.9H463.5V531.8H466.5V525.6H469.5V634.6H472.5V632.9H475.5V631.4H478.5V627.7H481.5V622.4H484.5V623.6H487.5V621.9H490.5V615.6H493.5V616.4H496.5V613.7H499.5V615.2H502.5V615.5H505.5V614.4H508.5V610.4H511.5V605.8H514.5V602.8H517.5V604.0H520.5V602.4H523.5V596.4H526.5V594.5H529.5V594.6H532.5V591.7H535.5V588.0H538.5V583.7H541.5V579.0H544.5V578.5H547.5V577.6H550.5V576.3H553.5V576.5H556.5V570.2H559.5V575.5H562.5V574.6H565.5V569.9H568.5V571.7H571.5V565.9H574.5V569.6H577.5V564.9H580.5V566.3H583.5V563.7H586.5V562.3H589.5V559.6H592.5V560.2H595.5V546.2H598.5V557.4H601.5V556.7H604.5V554.2H607.5V554.0H610.5V551.5H613.5V550.0H616.5V550.6H619.5V551.7H622.5V551.5H625.5V553.9H628.5V555.2H631.5V554.9H634.5V556.5H637.5V554.4H640.5V555.1H643.5V556.7H646.5V555.4H649.5V554.8H652.5V554.1H655.5V552.0H658.5V551.3H661.5V551.2H664.5V553.0H667.5V548.7H670.5V554.4H673.5V556.2H676.5V561.0H679.5V568.2H682.5V564.9H685.5V551.8H688.5V557.2H691.5V538.9H694.5V550.7H697.5V550.5H700.5V555.2H703.5V551.7H706.5V554.7H709.5V552.1H712.5V555.3H715.5V560.6H718.5V559.3H721.5V553.0H724.5V554.0H727.5V545.0H730.5V546.2H733.5V548.5H736.5V533.8H739.5V549.2H742.5V548.8H745.5V550.8H748.5V549.1H751.5V549.1H754.5V547.4H757.5V550.0H760.5V548.5H763.5V554.3H766.5V557.6H769.5V550.1H772.5V551.8H775.5V548.7H778.5V546.8H781.5V546.2H784.5V541.1H787.5V528.5H790.5V542.3H793.5V539.5H796.5V527.6H799.5V536.1H802.5V542.6H805.5V543.0H808.5V541.6H811.5V540.7H814.5V541.5H817.5V541.0H820.5V551.2H823.5V553.6H826.5V554.1H829.5V554.9H832.5V550.3H835.5V552.7H838.5V549.3H841.5V548.4H844.5V544.6H847.5V544.6H850.5V546.0H853.5V547.5H856.5V549.5H859.5V548.3H862.5V553.2H865.5V553.4H868.5V544.3H871.5V562.8H874.5V567.0H877.5V565.4H880.5V556.6H883.5V569.9H886.5V565.6H889.5V564.4H892.5V567.5H895.5V568.6H898.5V568.6H901.5V570.0H904.5V566.0H907.5V566.3H910.5V566.7H913.5V566.9H916.5V567.6H919.5V569.5H922.5V565.0H925.5V566.0H928.5V565.1H931.5V562.6H934.5V557.3H937.5V550.3H940.5V540.0H943.5V555.5H946.5V556.5H949.5V556.7H952.5V542.8H955.5V555.8H958.5V558.6H961.5V559.1H964.5V559.4H967.5V557.2H970.5V560.9H973.5V559.7H976.5V558.8H979.5V561.7H982.5V560.1H985.5V561.2H988.5V560.1H991.5V556.4H994.5V558.9H997.5V554.9H1000.5V557.9H1003.5V554.8H1006.5V557.2H1009.5V556.9H1012.5V552.8H1015.5V551.4H1018.5V550.3H1021.5V551.9H1024.5V544.2H1027.5V548.6H1030.5V553.9H1033.5V553.3H1036.5V556.0H1039.5V556.5H1042.5V546.3H1045.5V548.3H1048.5V561.8H1051.5V558.2H1054.5V560.2H1057.5V557.7H1060.5V554.7H1063.5V554.8H1066.5V549.1H1069.5V552.1H1072.5V548.9H1075.5V551.0H1078.5V543.2H1081.5V550.8H1084.5V547.5H1087.5V536.1H1090.5V549.8H1093.5V547.6H1096.5V545.0H1099.5V547.7H1102.5V538.6H1105.5V547.1H1108.5V542.3H1111.5V541.9H1114.5V545.4H1117.5V542.8H1120.5V541.8H1123.5V543.4H1126.5V543.9H1129.5V532.0H1132.5V559.4H1135.5V553.7H1138.5V556.3H1141.5V556.1H1144.5V550.6H1147.5V552.5H1150.5V552.0H1153.5V549.3H1156.5V549.1H1159.5V550.7H1162.5V549.2H1165.5V551.9H1168.5V546.4H1171.5V546.6H1174.5V552.9H1177.5V554.3H1180.5V551.0H1183.5V550.6H1186.5V551.1H1189.5V547.5H1192.5V551.8H1195.5V546.5H1198.5V549.5H1201.5V548.3H1204.5V548.8H1207.5V545.6H1210.5V541.9H1213.5V535.7H1216.5V539.1H1219.5V537.4H1222.5V533.4H1225.5V536.4H1228.5V536.6H1231.5V539.3H1234.5V537.8H1237.5V535.1H1240.5V543.2H1243.5V541.1H1246.5V541.9H1249.5V545.3H1252.5V543.0H1255.5V546.2H1258.5V541.5H1261.5V545.8H1264.5V545.7H1267.5V544.9H1270.5V539.9H1273.5V532.6H1276.5V544.0H1279.5V542.8H1282.5V541.8H1285.5V538.5H1288.5V543.7H1291.5V543.3H1294.5V542.3H1297.5V540.2H1300.5V537.5H1303.5V539.2H1306.5V542.0H1309.5V541.0H1312.5V541.2H1315.5V542.1H1318.5V539.3H1321.5V546.4H1324.5V545.9H1327.5V548.9H1330.5V546.2H1333.5V540.9H1336.5V543.2H1339.5V541.1H1342.5V538.3H1345.5V541.3H1348.5V537.1H1351.5V538.9H1354.5V537.2H1357.5V538.6H1360.5V538.6H1363.5V524.1H1366.5V525.0H1369.5V538.2H1372.5V539.0H1375.5V539.6H1378.5V535.0H1381.5V541.9H1384.5V540.7H1387.5V542.5H1390.5V543.7H1393.5V544.7H1396.5V542.6H1399.5V541.0H1402.5V545.0H1405.5V536.7H1408.5V548.0H1411.5V545.0H1414.5V543.6H1417.5V543.3H1420.5V541.5H1423.5V536.6H1426.5V535.0H1429.5V636.0H1426.5V622.0H1423.5V625.6H1420.5V634.0H1417.5V626.9H1414.5V630.0H1411.5V620.8H1408.5V627.2H1405.5V620.5H1402.5V619.5H1399.5V613.3H1396.5V626.8H1393.5V618.6H1390.5V618.1H1387.5V620.1H1384.5V625.6H1381.5V617.7H1378.5V617.7H1375.5V624.1H1372.5V625.0H1369.5V619.7H1366.5V619.3H1363.5V628.4H1360.5V617.6H1357.5V626.7H1354.5V630.2H1351.5V622.8H1348.5V621.3H1345.5V619.0H1342.5V627.7H1339.5V619.6H1336.5V626.9H1333.5V618.0H1330.5V626.7H1327.5V615.9H1324.5V623.4H1321.5V618.9H1318.5V616.2H1315.5V620.6H1312.5V626.4H1309.5V621.9H1306.5V616.8H1303.5V612.5H1300.5V615.6H1297.5V610.2H1294.5V623.0H1291.5V625.6H1288.5V625.0H1285.5V629.0H1282.5V616.9H1279.5V617.7H1276.5V619.4H1273.5V632.5H1270.5V617.6H1267.5V619.2H1264.5V630.2H1261.5V618.3H1258.5V626.1H1255.5V628.7H1252.5V621.9H1249.5V630.0H1246.5V620.5H1243.5V625.5H1240.5V619.5H1237.5V620.6H1234.5V639.0H1231.5V635.7H1228.5V627.2H1225.5V635.4H1222.5V622.4H1219.5V623.0H1216.5V622.7H1213.5V623.8H1210.5V626.3H1207.5V628.6H1204.5V627.0H1201.5V622.1H1198.5V623.9H1195.5V623.0H1192.5V622.8H1189.5V629.1H1186.5V627.3H1183.5V642.0H1180.5V648.0H1177.5V622.6H1174.5V622.4H1171.5V622.6H1168.5V635.5H1165.5V624.5H1162.5V623.6H1159.5V626.8H1156.5V624.1H1153.5V621.3H1150.5V637.0H1147.5V630.9H1144.5V628.5H1141.5V623.7H1138.5V640.0H1135.5V624.0H1132.5V646.0H1129.5V625.1H1126.5V625.3H1123.5V622.6H1120.5V625.8H1117.5V622.6H1114.5V617.3H1111.5V631.6H1108.5V618.4H1105.5V630.5H1102.5V620.1H1099.5V619.0H1096.5V618.8H1093.5V621.5H1090.5V623.2H1087.5V624.4H1084.5V613.6H1081.5V613.4H1078.5V617.5H1075.5V617.3H1072.5V623.2H1069.5V620.1H1066.5V632.0H1063.5V616.3H1060.5V628.0H1057.5V615.8H1054.5V612.9H1051.5V613.0H1048.5V617.0H1045.5V620.9H1042.5V611.3H1039.5V618.0H1036.5V611.9H1033.5V621.2H1030.5V609.8H1027.5V618.2H1024.5V611.9H1021.5V612.6H1018.5V632.0H1015.5V620.4H1012.5V610.1H1009.5V611.4H1006.5V619.3H1003.5V615.0H1000.5V610.6H997.5V615.4H994.5V614.1H991.5V627.0H988.5V612.9H985.5V617.4H982.5V627.5H979.5V616.1H976.5V611.4H973.5V610.8H970.5V615.4H967.5V616.0H964.5V612.6H961.5V617.1H958.5V620.8H955.5V617.4H952.5V611.5H949.5V615.9H946.5V609.6H943.5V618.2H940.5V626.0H937.5V616.5H934.5V612.7H931.5V616.1H928.5V610.9H925.5V621.0H922.5V614.0H919.5V617.9H916.5V612.1H913.5V611.1H910.5V616.9H907.5V613.1H904.5V621.0H901.5V614.7H898.5V615.8H895.5V610.2H892.5V613.7H889.5V609.7H886.5V607.7H883.5V622.6H880.5V612.0H877.5V607.8H874.5V606.3H871.5V621.4H868.5V608.4H865.5V617.1H862.5V610.6H859.5V606.2H856.5V610.2H853.5V619.0H850.5V619.2H847.5V613.1H844.5V611.8H841.5V608.2H838.5V619.1H835.5V604.7H832.5V606.3H829.5V609.6H826.5V606.7H823.5V621.6H820.5V621.2H817.5V619.9H814.5V610.0H811.5V606.9H808.5V609.4H805.5V605.5H802.5V612.4H799.5V605.5H796.5V619.0H793.5V603.6H790.5V606.8H787.5V637.0H784.5V608.0H781.5V603.8H778.5V605.2H775.5V604.2H772.5V603.6H769.5V606.4H766.5V612.1H763.5V609.5H760.5V605.0H757.5V607.2H754.5V614.9H751.5V611.0H748.5V604.7H745.5V612.2H742.5V644.0H739.5V610.2H736.5V605.3H733.5V614.8H730.5V606.5H727.5V603.8H724.5V605.7H721.5V607.4H718.5V602.8H715.5V621.0H712.5V606.8H709.5V605.3H706.5V605.4H703.5V605.8H700.5V620.5H697.5V613.3H694.5V620.7H691.5V605.3H688.5V620.2H685.5V606.1H682.5V605.6H679.5V620.0H676.5V615.5H673.5V602.7H670.5V610.8H667.5V624.3H664.5V613.2H661.5V610.1H658.5V614.6H655.5V611.5H652.5V614.1H649.5V612.8H646.5V628.0H643.5V608.2H640.5V634.0H637.5V614.1H634.5V609.6H631.5V609.3H628.5V609.1H625.5V613.7H622.5V630.0H619.5V604.4H616.5V618.6H613.5V628.0H610.5V615.6H607.5V609.9H604.5V607.8H601.5V612.0H598.5V609.7H595.5V610.8H592.5V615.0H589.5V611.9H586.5V611.8H583.5V624.2H580.5V612.2H577.5V609.4H574.5V611.7H571.5V610.0H568.5V622.8H565.5V610.0H562.5V613.0H559.5V612.5H556.5V610.0H553.5V615.6H550.5V618.1H547.5V613.4H544.5V613.7H541.5V614.9H538.5V616.5H535.5V614.1H532.5V615.3H529.5V615.6H526.5V619.4H523.5V620.8H520.5V617.8H517.5V619.4H514.5V618.5H511.5V622.3H508.5V628.3H505.5V633.1H502.5V626.2H499.5V621.4H496.5V621.1H493.5V631.6H490.5V622.9H487.5V625.6H484.5V624.7H481.5V628.7H478.5V632.4H475.5V633.9H472.5V635.6H469.5V630.8H466.5V621.4H463.5V624.4H460.5V621.3H457.5V635.1H454.5V621.3H451.5V623.3H448.5V635.9H445.5V621.7H442.5V622.0H439.5V624.7H436.5V625.9H433.5V623.7H430.5V634.3H427.5V627.8H424.5V627.6H421.5V627.7H418.5V629.9H415.5V634.1H412.5V636.6H409.5V631.4H406.5V638.1H403.5V630.8H400.5V638.1H397.5V647.1H394.5V636.5H391.5V644.3H388.5V645.7H385.5V656.6H382.5V649.3H379.5V655.8H376.5V650.9H373.5V653.7H370.5V653.9H367.5V652.5H364.5V665.1H361.5V656.2H358.5V651.9H355.5V653.4H352.5V660.4H349.5V647.6H346.5V662.1H343.5V648.5H340.5V659.1H337.5V661.1H334.5V664.5H331.5V668.3H328.5V681.3H325.5V699.8H322.5V697.7H319.5V705.9H316.5V714.2H313.5V723.3H310.5V742.6H307.5V750.7H304.5V749.5H301.5V777.8H298.5V793.2H295.5V805.6H292.5V809.9H289.5V813.1H286.5V827.5H283.5V831.0H280.5V842.8H277.5V856.8H274.5V882.4H271.5V882.1H268.5V906.7H265.5Z"/><path fill="#1b70de" fill-opacity="0.4" d="M266.0,878.0H269.0V866.8H272.0V865.8H275.0V857.6H278.0V841.5H281.0V853.8H284.0V847.8H287.0V834.0H290.0V832.9H293.0V825.1H296.0V820.7H299.0V812.7H302.0V814.0H305.0V812.0H308.0V796.0H311.0V804.4H314.0V795.0H317.0V784.7H320.0V780.5H323.0V782.0H326.0V765.8H329.0V753.3H332.0V759.7H335.0V750.0H338.0V741.0H341.0V737.5H344.0V716.3H347.0V704.6H350.0V686.1H353.0V688.0H356.0V678.1H359.0V665.2H362.0V672.5H365.0V662.6H368.0V666.3H371.0V677.5H374.0V674.9H377.0V674.7H380.0V671.6H383.0V657.7H386.0V648.7H389.0V643.9H392.0V646.9H395.0V631.4H398.0V638.1H401.0V623.2H404.0V632.0H407.0V632.6H410.0V630.2H413.0V630.0H416.0V627.3H419.0V617.6H422.0V605.7H425.0V593.7H428.0V580.5H431.0V576.8H434.0V573.7H437.0V556.0H440.0V553.1H443.0V555.2H446.0V542.6H449.0V539.0H452.0V536.9H455.0V544.4H458.0V545.4H461.0V544.6H464.0V535.5H467.0V539.4H470.0V509.1H473.0V502.8H476.0V507.4H479.0V508.8H482.0V498.0H485.0V498.4H488.0V496.2H491.0V486.9H494.0V495.7H497.0V481.3H500.0V477.6H503.0V466.1H506.0V471.1H509.0V473.9H512.0V473.1H515.0V475.8H518.0V468.5H521.0V463.7H524.0V469.4H527.0V461.3H530.0V452.7H533.0V447.5H536.0V443.7H539.0V447.1H542.0V445.3H545.0V443.0H548.0V433.1H551.0V439.3H554.0V438.6H557.0V436.7H560.0V431.7H563.0V437.8H566.0V431.9H569.0V420.4H572.0V427.7H575.0V428.9H578.0V430.4H581.0V430.9H584.0V419.9H587.0V405.3H590.0V399.6H593.0V402.8H596.0V402.9H599.0V392.8H602.0V400.8H605.0V403.0H608.0V399.9H611.0V401.5H614.0V405.4H617.0V399.0H620.0V393.2H623.0V395.8H626.0V394.8H629.0V382.8H632.0V394.5H635.0V401.1H638.0V402.3H641.0V403.7H644.0V403.6H647.0V401.6H650.0V400.8H653.0V396.1H656.0V396.5H659.0V402.8H662.0V400.3H665.0V406.0H668.0V407.4H671.0V413.0H674.0V409.1H677.0V408.2H680.0V407.8H683.0V405.6H686.0V402.7H689.0V397.4H692.0V401.2H695.0V405.3H698.0V402.5H701.0V392.5H704.0V401.3H707.0V394.0H710.0V403.4H713.0V394.7H716.0V396.9H719.0V397.4H722.0V398.9H725.0V384.7H728.0V391.3H731.0V394.4H734.0V388.1H737.0V388.4H740.0V383.1H743.0V388.9H746.0V389.9H749.0V391.4H752.0V387.3H755.0V391.8H758.0V395.0H761.0V387.0H764.0V399.1H767.0V405.1H770.0V406.3H773.0V409.3H776.0V404.0H779.0V404.7H782.0V403.1H785.0V400.7H788.0V400.2H791.0V388.6H794.0V403.1H797.0V395.8H800.0V397.9H803.0V396.6H806.0V404.8H809.0V393.5H812.0V397.8H815.0V397.1H818.0V400.6H821.0V408.0H824.0V395.1H827.0V415.1H830.0V405.7H833.0V415.8H836.0V405.7H839.0V405.9H842.0V410.4H845.0V406.8H848.0V407.1H851.0V399.3H854.0V411.7H857.0V415.7H860.0V411.5H863.0V413.8H866.0V419.2H869.0V420.9H872.0V416.0H875.0V413.3H878.0V421.0H881.0V406.5H884.0V418.1H887.0V420.3H890.0V424.7H893.0V423.3H896.0V422.9H899.0V413.1H902.0V424.7H905.0V413.6H908.0V427.6H911.0V416.5H914.0V424.9H917.0V423.3H920.0V420.9H923.0V419.5H926.0V421.6H929.0V409.0H932.0V419.5H935.0V422.5H938.0V423.8H941.0V424.8H944.0V410.7H947.0V424.1H950.0V422.1H953.0V421.3H956.0V423.2H959.0V425.0H962.0V423.3H965.0V427.8H968.0V423.5H971.0V410.3H974.0V422.5H977.0V421.2H980.0V419.9H983.0V416.7H986.0V416.2H989.0V412.4H992.0V418.7H995.0V415.5H998.0V413.0H1001.0V415.2H1004.0V415.0H1007.0V419.9H1010.0V415.9H1013.0V413.4H1016.0V407.7H1019.0V416.6H1022.0V410.6H1025.0V407.1H1028.0V414.2H1031.0V405.4H1034.0V406.4H1037.0V412.4H1040.0V414.5H1043.0V411.6H1046.0V413.2H1049.0V395.3H1052.0V412.2H1055.0V407.8H1058.0V411.7H1061.0V404.7H1064.0V408.7H1067.0V404.9H1070.0V404.7H1073.0V403.7H1076.0V400.8H1079.0V403.5H1082.0V399.7H1085.0V400.8H1088.0V397.9H1091.0V402.0H1094.0V393.3H1097.0V399.3H1100.0V401.2H1103.0V405.7H1106.0V398.0H1109.0V399.2H1112.0V405.5H1115.0V402.6H1118.0V404.0H1121.0V392.6H1124.0V406.3H1127.0V403.8H1130.0V410.4H1133.0V404.1H1136.0V400.0H1139.0V407.5H1142.0V404.2H1145.0V405.1H1148.0V406.7H1151.0V390.8H1154.0V401.2H1157.0V398.8H1160.0V403.5H1163.0V389.6H1166.0V397.2H1169.0V390.9H1172.0V398.9H1175.0V400.8H1178.0V395.2H1181.0V394.2H1184.0V396.3H1187.0V395.5H1190.0V394.5H1193.0V395.7H1196.0V391.9H1199.0V394.6H1202.0V394.6H1205.0V391.7H1208.0V395.9H1211.0V390.3H1214.0V393.4H1217.0V376.8H1220.0V388.8H1223.0V389.6H1226.0V379.8H1229.0V381.3H1232.0V383.8H1235.0V384.1H1238.0V369.9H1241.0V383.0H1244.0V387.6H1247.0V390.4H1250.0V397.1H1253.0V395.7H1256.0V394.4H1259.0V392.0H1262.0V392.8H1265.0V395.1H1268.0V388.1H1271.0V392.9H1274.0V388.0H1277.0V394.4H1280.0V389.9H1283.0V376.1H1286.0V392.8H1289.0V392.2H1292.0V389.2H1295.0V394.4H1298.0V393.8H1301.0V393.7H1304.0V393.2H1307.0V389.5H1310.0V387.9H1313.0V388.1H1316.0V390.1H1319.0V393.5H1322.0V384.0H1325.0V388.9H1328.0V387.1H1331.0V384.3H1334.0V389.7H1337.0V387.7H1340.0V377.9H1343.0V384.4H1346.0V392.4H1349.0V386.7H1352.0V376.7H1355.0V389.4H1358.0V394.6H1361.0V384.8H1364.0V389.9H1367.0V382.4H1370.0V390.7H1373.0V389.9H1376.0V390.7H1379.0V388.1H1382.0V373.9H1385.0V377.6H1388.0V389.5H1391.0V385.6H1394.0V389.5H1397.0V390.7H1400.0V386.0H1403.0V391.2H1406.0V354.5H1409.0V394.3H1412.0V392.6H1415.0V390.4H1418.0V384.1H1421.0V393.5H1424.0V390.2H1427.0V393.0H1429.5V537.0H1427.0V536.1H1424.0V532.7H1421.0V537.3H1418.0V537.0H1415.0V554.0H1412.0V537.1H1409.0V544.1H1406.0V553.8H1403.0V535.3H1400.0V537.7H1397.0V536.1H1394.0V542.4H1391.0V540.2H1388.0V532.5H1385.0V550.4H1382.0V539.8H1379.0V540.0H1376.0V536.5H1373.0V541.8H1370.0V539.4H1367.0V537.9H1364.0V543.8H1361.0V539.1H1358.0V537.8H1355.0V540.2H1352.0V535.6H1349.0V534.2H1346.0V528.4H1343.0V529.6H1340.0V537.4H1337.0V532.0H1334.0V532.7H1331.0V529.9H1328.0V534.7H1325.0V532.3H1322.0V535.5H1319.0V530.3H1316.0V549.2H1313.0V533.8H1310.0V545.1H1307.0V538.5H1304.0V541.3H1301.0V538.5H1298.0V537.6H1295.0V541.3H1292.0V543.6H1289.0V546.6H1286.0V540.8H1283.0V549.2H1280.0V552.1H1277.0V543.4H1274.0V549.5H1271.0V545.8H1268.0V546.6H1265.0V560.8H1262.0V550.5H1259.0V562.5H1256.0V544.7H1253.0V539.3H1250.0V546.6H1247.0V535.2H1244.0V535.9H1241.0V526.2H1238.0V528.9H1235.0V529.2H1232.0V538.8H1229.0V547.7H1226.0V542.5H1223.0V546.4H1220.0V536.7H1217.0V545.0H1214.0V543.8H1211.0V541.3H1208.0V541.1H1205.0V544.5H1202.0V553.8H1199.0V538.9H1196.0V540.3H1193.0V551.2H1190.0V536.6H1187.0V547.9H1184.0V539.2H1181.0V540.6H1178.0V549.2H1175.0V545.4H1172.0V544.4H1169.0V545.3H1166.0V549.1H1163.0V548.5H1160.0V548.3H1157.0V550.1H1154.0V564.5H1151.0V554.0H1148.0V552.6H1145.0V557.5H1142.0V552.4H1139.0V571.9H1136.0V560.1H1133.0V559.0H1130.0V562.6H1127.0V568.1H1124.0V560.9H1121.0V569.5H1118.0V563.5H1115.0V562.5H1112.0V564.7H1109.0V561.4H1106.0V577.2H1103.0V559.8H1100.0V562.5H1097.0V569.6H1094.0V565.9H1091.0V566.6H1088.0V562.3H1085.0V565.7H1082.0V569.3H1079.0V563.7H1076.0V563.6H1073.0V564.2H1070.0V571.0H1067.0V569.3H1064.0V585.4H1061.0V570.1H1058.0V572.8H1055.0V576.1H1052.0V579.0H1049.0V585.0H1046.0V578.6H1043.0V579.7H1040.0V572.8H1037.0V568.7H1034.0V570.2H1031.0V575.2H1028.0V567.3H1025.0V566.7H1022.0V569.8H1019.0V567.2H1016.0V569.6H1013.0V571.3H1010.0V574.4H1007.0V578.0H1004.0V576.5H1001.0V579.6H998.0V572.6H995.0V574.5H992.0V580.6H989.0V573.6H986.0V576.2H983.0V576.5H980.0V580.5H977.0V574.7H974.0V575.5H971.0V583.4H968.0V575.9H965.0V575.7H962.0V577.7H959.0V579.0H956.0V569.0H953.0V571.1H950.0V582.8H947.0V578.3H944.0V571.2H941.0V582.2H938.0V574.3H935.0V582.2H932.0V589.0H929.0V581.0H926.0V584.9H923.0V593.3H920.0V584.7H917.0V583.0H914.0V585.5H911.0V582.0H908.0V583.2H905.0V581.6H902.0V584.2H899.0V584.9H896.0V590.7H893.0V584.4H890.0V583.8H887.0V586.8H884.0V593.2H881.0V590.8H878.0V580.1H875.0V577.5H872.0V576.6H869.0V568.3H866.0V568.6H863.0V567.9H860.0V567.7H857.0V563.1H854.0V558.9H851.0V558.7H848.0V565.6H845.0V563.7H842.0V567.8H839.0V569.4H836.0V574.8H833.0V570.0H830.0V571.9H827.0V568.3H824.0V568.4H821.0V568.7H818.0V576.0H815.0V557.7H812.0V559.8H809.0V568.3H806.0V557.5H803.0V559.4H800.0V569.7H797.0V555.5H794.0V553.4H791.0V561.7H788.0V557.1H785.0V568.8H782.0V566.8H779.0V569.2H776.0V567.5H773.0V570.7H770.0V571.6H767.0V569.2H764.0V570.9H761.0V570.7H758.0V571.9H755.0V563.8H752.0V572.4H749.0V580.5H746.0V564.2H743.0V560.6H740.0V567.6H737.0V562.0H734.0V562.7H731.0V568.3H728.0V568.4H725.0V573.2H722.0V575.6H719.0V573.3H716.0V571.4H713.0V575.4H710.0V587.9H707.0V577.7H704.0V575.1H701.0V577.6H698.0V567.1H695.0V569.2H692.0V576.4H689.0V577.5H686.0V585.7H683.0V584.3H680.0V578.9H677.0V576.3H674.0V579.7H671.0V570.9H668.0V565.3H665.0V566.7H662.0V565.5H659.0V573.4H656.0V567.6H653.0V565.9H650.0V578.1H647.0V570.8H644.0V573.9H641.0V576.2H638.0V570.4H635.0V566.8H632.0V569.6H629.0V569.6H626.0V575.0H623.0V572.5H620.0V571.5H617.0V569.1H614.0V566.7H611.0V570.2H608.0V567.2H605.0V570.7H602.0V570.8H599.0V586.7H596.0V570.7H593.0V578.7H590.0V576.1H587.0V581.3H584.0V584.8H581.0V593.8H578.0V584.5H575.0V583.1H572.0V587.0H569.0V588.1H566.0V587.7H563.0V602.1H560.0V596.8H557.0V591.8H554.0V590.0H551.0V599.6H548.0V603.1H545.0V597.3H542.0V597.5H539.0V599.8H536.0V609.0H533.0V606.0H530.0V610.9H527.0V612.8H524.0V615.9H521.0V618.4H518.0V620.1H515.0V627.4H512.0V631.3H509.0V627.7H506.0V642.6H503.0V632.3H500.0V632.4H497.0V638.6H494.0V634.0H491.0V659.0H488.0V641.1H485.0V640.8H482.0V652.5H479.0V647.1H476.0V644.2H473.0V647.2H470.0V662.5H467.0V659.7H464.0V656.8H461.0V658.7H458.0V678.0H455.0V664.7H452.0V669.2H449.0V670.2H446.0V672.7H443.0V683.7H440.0V680.9H437.0V690.9H434.0V704.3H431.0V710.6H428.0V713.1H425.0V722.0H422.0V720.4H419.0V726.0H416.0V730.4H413.0V739.4H410.0V739.6H407.0V742.2H404.0V738.8H401.0V745.5H398.0V744.6H395.0V746.8H392.0V760.4H389.0V751.4H386.0V768.9H383.0V758.6H380.0V764.1H377.0V769.9H374.0V776.1H371.0V770.6H368.0V770.1H365.0V770.8H362.0V770.9H359.0V772.2H356.0V782.4H353.0V791.4H350.0V794.0H347.0V824.6H344.0V822.2H341.0V818.3H338.0V830.3H335.0V842.3H332.0V851.1H329.0V845.6H326.0V853.5H323.0V854.6H320.0V867.6H317.0V860.3H314.0V857.7H311.0V867.6H308.0V869.8H305.0V868.3H302.0V870.9H299.0V873.5H296.0V876.9H293.0V887.9H290.0V891.3H287.0V888.4H284.0V890.8H281.0V901.7H278.0V901.5H275.0V903.4H272.0V902.2H269.0V905.1H266.0Z"/><path fill="#1b70de" d="M266.0,882.6H269.0V869.6H272.0V868.3H275.0V858.0H278.0V845.6H281.0V854.4H284.0V851.1H287.0V835.7H290.0V834.9H293.0V828.8H296.0V824.8H299.0V813.2H302.0V817.3H305.0V814.7H308.0V798.7H311.0V805.7H314.0V798.6H317.0V789.2H320.0V783.2H323.0V782.3H326.0V770.5H329.0V757.0H332.0V760.6H335.0V752.1H338.0V744.7H341.0V740.7H344.0V718.0H347.0V707.0H350.0V690.7H353.0V691.4H356.0V681.4H359.0V667.3H362.0V672.7H365.0V663.8H368.0V668.8H371.0V678.4H374.0V678.0H377.0V679.5H380.0V674.7H383.0V660.6H386.0V651.8H389.0V646.1H392.0V648.6H395.0V634.8H398.0V640.3H401.0V623.7H404.0V632.9H407.0V634.6H410.0V634.1H413.0V630.2H416.0V630.6H419.0V621.8H422.0V606.3H425.0V597.6H428.0V583.8H431.0V580.6H434.0V573.9H437.0V557.8H440.0V556.7H443.0V556.2H446.0V545.3H449.0V542.1H452.0V539.2H455.0V547.0H458.0V545.5H461.0V545.1H464.0V537.6H467.0V540.9H470.0V511.5H473.0V506.1H476.0V511.3H479.0V510.1H482.0V501.9H485.0V503.2H488.0V496.9H491.0V490.9H494.0V496.7H497.0V481.4H500.0V479.9H503.0V470.9H506.0V475.5H509.0V476.0H512.0V473.9H515.0V477.7H518.0V472.3H521.0V464.2H524.0V471.7H527.0V462.1H530.0V456.0H533.0V450.4H536.0V447.6H539.0V448.4H542.0V447.7H545.0V443.1H548.0V436.6H551.0V441.4H554.0V439.6H557.0V438.4H560.0V436.2H563.0V438.7H566.0V434.6H569.0V421.4H572.0V432.5H575.0V429.5H578.0V430.5H581.0V431.5H584.0V424.7H587.0V407.1H590.0V403.7H593.0V403.3H596.0V404.2H599.0V397.0H602.0V403.0H605.0V403.6H608.0V403.7H611.0V405.5H614.0V409.0H617.0V400.5H620.0V397.6H623.0V396.1H626.0V398.5H629.0V386.0H632.0V396.8H635.0V403.4H638.0V405.6H641.0V407.8H644.0V406.9H647.0V406.4H650.0V405.1H653.0V400.2H656.0V401.2H659.0V403.2H662.0V404.1H665.0V408.8H668.0V412.2H671.0V414.4H674.0V412.6H677.0V411.1H680.0V409.6H683.0V409.5H686.0V406.8H689.0V401.1H692.0V404.6H695.0V405.7H698.0V404.8H701.0V395.9H704.0V405.1H707.0V398.5H710.0V403.4H713.0V396.6H716.0V401.2H719.0V399.8H722.0V399.7H725.0V385.0H728.0V394.5H731.0V395.2H734.0V390.3H737.0V390.5H740.0V385.0H743.0V391.1H746.0V392.9H749.0V395.1H752.0V391.7H755.0V394.3H758.0V399.7H761.0V387.2H764.0V399.6H767.0V405.2H770.0V407.5H773.0V411.9H776.0V408.8H779.0V406.1H782.0V403.7H785.0V401.7H788.0V400.7H791.0V389.6H794.0V404.2H797.0V396.9H800.0V400.2H803.0V396.8H806.0V405.8H809.0V393.6H812.0V401.3H815.0V400.8H818.0V405.6H821.0V412.2H824.0V399.3H827.0V416.4H830.0V410.0H833.0V417.4H836.0V409.1H839.0V408.0H842.0V413.1H845.0V411.0H848.0V407.9H851.0V403.8H854.0V414.7H857.0V416.3H860.0V414.0H863.0V418.6H866.0V419.8H869.0V421.1H872.0V416.2H875.0V417.3H878.0V422.3H881.0V408.6H884.0V420.7H887.0V421.9H890.0V425.7H893.0V425.8H896.0V426.1H899.0V414.5H902.0V428.8H905.0V416.3H908.0V428.2H911.0V419.8H914.0V426.7H917.0V426.4H920.0V424.8H923.0V419.6H926.0V423.6H929.0V411.0H932.0V420.5H935.0V423.6H938.0V425.3H941.0V425.5H944.0V411.0H947.0V425.4H950.0V423.5H953.0V424.6H956.0V426.4H959.0V426.9H962.0V426.4H965.0V429.1H968.0V425.8H971.0V412.0H974.0V422.9H977.0V422.9H980.0V424.1H983.0V420.2H986.0V417.1H989.0V416.9H992.0V422.3H995.0V420.3H998.0V414.0H1001.0V418.1H1004.0V418.4H1007.0V420.0H1010.0V418.0H1013.0V417.4H1016.0V412.0H1019.0V417.0H1022.0V412.0H1025.0V408.1H1028.0V417.1H1031.0V406.2H1034.0V410.6H1037.0V415.6H1040.0V415.4H1043.0V415.4H1046.0V413.8H1049.0V399.4H1052.0V413.3H1055.0V410.3H1058.0V411.9H1061.0V406.2H1064.0V409.9H1067.0V409.7H1070.0V408.2H1073.0V407.8H1076.0V404.7H1079.0V403.9H1082.0V402.5H1085.0V402.4H1088.0V399.8H1091.0V402.6H1094.0V397.0H1097.0V400.8H1100.0V402.1H1103.0V405.9H1106.0V401.7H1109.0V403.6H1112.0V406.1H1115.0V403.9H1118.0V406.6H1121.0V396.2H1124.0V408.8H1127.0V407.5H1130.0V414.4H1133.0V406.3H1136.0V403.6H1139.0V411.3H1142.0V404.8H1145.0V407.7H1148.0V408.2H1151.0V392.0H1154.0V405.7H1157.0V403.4H1160.0V404.1H1163.0V393.8H1166.0V400.9H1169.0V392.9H1172.0V400.8H1175.0V402.6H1178.0V399.6H1181.0V396.4H1184.0V398.8H1187.0V398.6H1190.0V395.2H1193.0V395.8H1196.0V395.6H1199.0V396.6H1202.0V398.5H1205.0V395.9H1208.0V396.4H1211.0V391.6H1214.0V395.1H1217.0V381.3H1220.0V390.1H1223.0V391.8H1226.0V383.0H1229.0V386.0H1232.0V385.6H1235.0V389.0H1238.0V373.8H1241.0V387.1H1244.0V389.9H1247.0V394.0H1250.0V397.4H1253.0V399.0H1256.0V396.3H1259.0V393.1H1262.0V397.3H1265.0V395.3H1268.0V390.1H1271.0V395.4H1274.0V392.9H1277.0V397.6H1280.0V390.7H1283.0V379.0H1286.0V396.8H1289.0V395.7H1292.0V392.0H1295.0V395.8H1298.0V395.8H1301.0V398.1H1304.0V393.5H1307.0V392.2H1310.0V389.2H1313.0V389.1H1316.0V391.1H1319.0V394.6H1322.0V388.4H1325.0V393.9H1328.0V391.1H1331.0V389.1H1334.0V390.4H1337.0V392.6H1340.0V379.1H1343.0V385.5H1346.0V394.0H1349.0V388.9H1352.0V381.1H1355.0V393.5H1358.0V395.3H1361.0V388.7H1364.0V393.1H1367.0V387.2H1370.0V394.0H1373.0V391.9H1376.0V393.0H1379.0V392.7H1382.0V374.0H1385.0V382.3H1388.0V391.9H1391.0V386.1H1394.0V394.0H1397.0V394.9H1400.0V387.5H1403.0V393.4H1406.0V356.0H1409.0V396.0H1412.0V396.1H1415.0V394.6H1418.0V385.0H1421.0V394.4H1424.0V391.1H1427.0V397.1H1429.5V534.2H1427.0V531.2H1424.0V531.9H1421.0V534.1H1418.0V534.2H1415.0V550.0H1412.0V537.0H1409.0V540.4H1406.0V549.3H1403.0V534.8H1400.0V534.4H1397.0V535.8H1394.0V537.9H1391.0V535.7H1388.0V532.4H1385.0V547.1H1382.0V536.6H1379.0V535.1H1376.0V534.3H1373.0V537.2H1370.0V536.5H1367.0V536.5H1364.0V540.4H1361.0V538.6H1358.0V536.6H1355.0V535.8H1352.0V534.6H1349.0V530.3H1346.0V528.0H1343.0V526.8H1340.0V536.8H1337.0V529.9H1334.0V528.9H1331.0V528.6H1328.0V530.9H1325.0V530.8H1322.0V530.7H1319.0V529.4H1316.0V544.7H1313.0V533.1H1310.0V542.8H1307.0V535.3H1304.0V538.6H1301.0V536.1H1298.0V537.3H1295.0V538.8H1292.0V541.5H1289.0V542.1H1286.0V539.8H1283.0V544.5H1280.0V547.9H1277.0V539.4H1274.0V546.0H1271.0V544.5H1268.0V546.5H1265.0V558.0H1262.0V546.0H1259.0V557.6H1256.0V542.5H1253.0V536.5H1250.0V541.8H1247.0V530.4H1244.0V534.8H1241.0V524.1H1238.0V528.6H1235.0V525.8H1232.0V538.3H1229.0V545.3H1226.0V540.7H1223.0V542.0H1220.0V536.6H1217.0V544.7H1214.0V539.2H1211.0V540.6H1208.0V536.1H1205.0V542.2H1202.0V551.2H1199.0V535.7H1196.0V539.6H1193.0V547.9H1190.0V535.8H1187.0V543.4H1184.0V538.0H1181.0V539.0H1178.0V546.0H1175.0V541.5H1172.0V543.0H1169.0V541.1H1166.0V549.0H1163.0V545.4H1160.0V547.6H1157.0V547.1H1154.0V563.6H1151.0V554.0H1148.0V550.4H1145.0V554.5H1142.0V551.5H1139.0V566.9H1136.0V557.2H1133.0V555.4H1130.0V558.2H1127.0V563.7H1124.0V557.1H1121.0V568.7H1118.0V560.6H1115.0V559.1H1112.0V563.9H1109.0V558.3H1106.0V573.6H1103.0V558.3H1100.0V562.4H1097.0V564.9H1094.0V561.5H1091.0V566.0H1088.0V561.9H1085.0V561.4H1082.0V567.3H1079.0V561.1H1076.0V561.6H1073.0V562.5H1070.0V567.6H1067.0V565.8H1064.0V581.8H1061.0V569.2H1058.0V569.2H1055.0V571.2H1052.0V577.1H1049.0V581.1H1046.0V575.2H1043.0V576.5H1040.0V570.5H1037.0V567.7H1034.0V568.8H1031.0V570.6H1028.0V566.7H1025.0V566.7H1022.0V568.5H1019.0V565.7H1016.0V566.4H1013.0V570.0H1010.0V573.9H1007.0V573.9H1004.0V572.0H1001.0V574.7H998.0V570.9H995.0V570.0H992.0V575.9H989.0V572.4H986.0V573.7H983.0V575.8H980.0V576.4H977.0V571.3H974.0V572.8H971.0V581.1H968.0V573.2H965.0V574.7H962.0V576.6H959.0V576.3H956.0V568.1H953.0V569.8H950.0V582.3H947.0V574.8H944.0V567.0H941.0V577.9H938.0V571.6H935.0V577.9H932.0V587.0H929.0V580.5H926.0V583.2H923.0V588.8H920.0V584.3H917.0V580.7H914.0V582.0H911.0V580.5H908.0V582.6H905.0V581.2H902.0V580.7H899.0V584.5H896.0V587.0H893.0V579.9H890.0V583.0H887.0V581.9H884.0V591.7H881.0V586.7H878.0V580.0H875.0V575.3H872.0V571.8H869.0V567.6H866.0V565.1H863.0V564.2H860.0V564.4H857.0V561.1H854.0V557.7H851.0V556.4H848.0V563.9H845.0V563.2H842.0V565.3H839.0V564.5H836.0V570.3H833.0V567.8H830.0V568.3H827.0V568.0H824.0V567.5H821.0V565.5H818.0V572.3H815.0V555.5H812.0V555.5H809.0V564.2H806.0V553.1H803.0V554.9H800.0V567.8H797.0V555.4H794.0V553.2H791.0V558.6H788.0V555.1H785.0V566.5H782.0V561.8H779.0V568.0H776.0V567.2H773.0V565.8H770.0V570.6H767.0V567.8H764.0V566.3H761.0V570.0H758.0V568.2H755.0V562.4H752.0V568.0H749.0V575.9H746.0V563.4H743.0V559.2H740.0V562.8H737.0V558.8H734.0V558.0H731.0V563.6H728.0V566.3H725.0V572.7H722.0V575.0H719.0V571.9H716.0V570.8H713.0V573.6H710.0V583.2H707.0V572.7H704.0V571.6H701.0V572.8H698.0V563.8H695.0V567.1H692.0V572.0H689.0V573.7H686.0V581.8H683.0V581.1H680.0V575.0H677.0V573.8H674.0V579.3H671.0V567.9H668.0V563.8H665.0V566.7H662.0V564.0H659.0V570.1H656.0V565.2H653.0V565.6H650.0V575.9H647.0V566.5H644.0V568.9H641.0V576.1H638.0V567.0H635.0V565.3H632.0V565.6H629.0V568.6H626.0V574.0H623.0V571.3H620.0V571.1H617.0V566.7H614.0V564.6H611.0V569.5H608.0V565.2H605.0V566.4H602.0V568.7H599.0V583.9H596.0V570.5H593.0V575.3H590.0V576.1H587.0V580.0H584.0V582.6H581.0V593.3H578.0V581.8H575.0V582.7H572.0V586.0H569.0V587.6H566.0V586.0H563.0V598.8H560.0V594.0H557.0V587.4H554.0V587.7H551.0V597.4H548.0V598.2H545.0V595.6H542.0V596.6H539.0V599.7H536.0V606.6H533.0V605.4H530.0V609.7H527.0V611.1H524.0V612.8H521.0V617.8H518.0V616.8H515.0V625.0H512.0V629.6H509.0V626.5H506.0V640.8H503.0V631.2H500.0V631.9H497.0V635.8H494.0V633.3H491.0V656.0H488.0V639.1H485.0V638.2H482.0V649.6H479.0V646.4H476.0V643.6H473.0V645.3H470.0V661.2H467.0V655.6H464.0V656.2H461.0V658.7H458.0V674.6H455.0V662.5H452.0V668.1H449.0V667.8H446.0V669.7H443.0V680.7H440.0V676.6H437.0V687.9H434.0V703.7H431.0V708.0H428.0V708.4H425.0V718.6H422.0V720.3H419.0V722.7H416.0V730.4H413.0V734.7H410.0V735.3H407.0V738.4H404.0V738.5H401.0V743.5H398.0V742.7H395.0V744.0H392.0V757.7H389.0V749.1H386.0V764.9H383.0V756.3H380.0V759.1H377.0V768.2H374.0V772.2H371.0V767.3H368.0V767.9H365.0V766.2H362.0V770.1H359.0V768.6H356.0V779.4H353.0V786.8H350.0V791.4H347.0V822.9H344.0V817.5H341.0V815.3H338.0V826.9H335.0V841.6H332.0V848.1H329.0V845.3H326.0V852.7H323.0V853.9H320.0V863.9H317.0V860.3H314.0V856.6H311.0V866.3H308.0V865.6H305.0V866.4H302.0V870.7H299.0V872.0H296.0V875.1H293.0V884.7H290.0V888.0H287.0V884.4H284.0V889.7H281.0V901.2H278.0V899.8H275.0V902.7H272.0V900.0H269.0V904.5H266.0Z"/></g>
<g><rect x="161" y="30" width="3" height="1102" fill="#000" fill-opacity="0.08"/><rect x="167" y="33" width="2.5" height="1097" fill="#000" fill-opacity="0.3"/><rect x="1520" y="33" width="3" height="1094" fill="#000" fill-opacity="0.3"/><rect x="167" y="33" width="1353" height="2.5" fill="#000" fill-opacity="0.55"/><rect x="164" y="1130" width="1362" height="2.5" fill="#000" fill-opacity="0.32"/><rect x="167" y="1124.5" width="1353" height="2.5" fill="#000" fill-opacity="0.1"/><rect x="164" y="30" width="3" height="1100" fill="#000"/><rect x="1523" y="30" width="3" height="1100" fill="#000"/><rect x="164" y="30" width="1362" height="3" fill="#000"/><rect x="164" y="1127" width="1362" height="3" fill="#000"/><rect x="259.0" y="1107" width="5" height="20" fill="#000" fill-opacity="0.75"/><rect x="259.0" y="33" width="5" height="20" fill="#000" fill-opacity="0.75"/><rect x="453.4" y="1107" width="5" height="20" fill="#000" fill-opacity="0.75"/><rect x="453.4" y="33" width="5" height="20" fill="#000" fill-opacity="0.75"/><rect x="647.8" y="1107" width="5" height="20" fill="#000" fill-opacity="0.75"/><rect x="647.8" y="33" width="5" height="20" fill="#000" fill-opacity="0.75"/><rect x="842.2" y="1107" width="5" height="20" fill="#000" fill-opacity="0.75"/><rect x="842.2" y="33" width="5" height="20" fill="#000" fill-opacity="0.75"/><rect x="1036.6" y="1107" width="5" height="20" fill="#000" fill-opacity="0.75"/><rect x="1036.6" y="33" width="5" height="20" fill="#000" fill-opacity="0.75"/><rect x="1231.0" y="1107" width="5" height="20" fill="#000" fill-opacity="0.75"/><rect x="1231.0" y="33" width="5" height="20" fill="#000" fill-opacity="0.75"/><rect x="1425.4" y="1107" width="5" height="20" fill="#000" fill-opacity="0.75"/><rect x="1425.4" y="33" width="5" height="20" fill="#000" fill-opacity="0.75"/><rect x="356.2" y="1117" width="5" height="10" fill="#000" fill-opacity="0.75"/><rect x="356.2" y="33" width="5" height="10" fill="#000" fill-opacity="0.75"/><rect x="550.6" y="1117" width="5" height="10" fill="#000" fill-opacity="0.75"/><rect x="550.6" y="33" width="5" height="10" fill="#000" fill-opacity="0.75"/><rect x="745.0" y="1117" width="5" height="10" fill="#000" fill-opacity="0.75"/><rect x="745.0" y="33" width="5" height="10" fill="#000" fill-opacity="0.75"/><rect x="939.4" y="1117" width="5" height="10" fill="#000" fill-opacity="0.75"/><rect x="939.4" y="33" width="5" height="10" fill="#000" fill-opacity="0.75"/><rect x="1133.8" y="1117" width="5" height="10" fill="#000" fill-opacity="0.75"/><rect x="1133.8" y="33" width="5" height="10" fill="#000" fill-opacity="0.75"/><rect x="1328.2" y="1117" width="5" height="10" fill="#000" fill-opacity="0.75"/><rect x="1328.2" y="33" width="5" height="10" fill="#000" fill-opacity="0.75"/><rect x="167" y="1067.0" width="20" height="3" fill="#000" fill-opacity="0.38"/><rect x="167" y="1070.0" width="20" height="3" fill="#000"/><rect x="1503" y="1067.0" width="20" height="3" fill="#000" fill-opacity="0.38"/><rect x="1503" y="1070.0" width="20" height="3" fill="#000"/><rect x="167" y="951.6" width="20" height="3" fill="#000" fill-opacity="0.38"/><rect x="167" y="954.6" width="20" height="3" fill="#000"/><rect x="1503" y="951.6" width="20" height="3" fill="#000" fill-opacity="0.38"/><rect x="1503" y="954.6" width="20" height="3" fill="#000"/><rect x="167" y="836.3" width="20" height="3" fill="#000" fill-opacity="0.38"/><rect x="167" y="839.3" width="20" height="3" fill="#000"/><rect x="1503" y="836.3" width="20" height="3" fill="#000" fill-opacity="0.38"/><rect x="1503" y="839.3" width="20" height="3" fill="#000"/><rect x="167" y="720.9" width="20" height="3" fill="#000" fill-opacity="0.38"/><rect x="167" y="723.9" width="20" height="3" fill="#000"/><rect x="1503" y="720.9" width="20" height="3" fill="#000" fill-opacity="0.38"/><rect x="1503" y="723.9" width="20" height="3" fill="#000"/><rect x="167" y="605.6" width="20" height="3" fill="#000" fill-opacity="0.38"/><rect x="167" y="608.6" width="20" height="3" fill="#000"/><rect x="1503" y="605.6" width="20" height="3" fill="#000" fill-opacity="0.38"/><rect x="1503" y="608.6" width="20" height="3" fill="#000"/><rect x="167" y="490.2" width="20" height="3" fill="#000" fill-opacity="0.38"/><rect x="167" y="493.2" width="20" height="3" fill="#000"/><rect x="1503" y="490.2" width="20" height="3" fill="#000" fill-opacity="0.38"/><rect x="1503" y="493.2" width="20" height="3" fill="#000"/><rect x="167" y="374.8" width="20" height="3" fill="#000" fill-opacity="0.38"/><rect x="167" y="377.8" width="20" height="3" fill="#000"/><rect x="1503" y="374.8" width="20" height="3" fill="#000" fill-opacity="0.38"/><rect x="1503" y="377.8" width="20" height="3" fill="#000"/><rect x="167" y="259.5" width="20" height="3" fill="#000" fill-opacity="0.38"/><rect x="167" y="262.5" width="20" height="3" fill="#000"/><rect x="1503" y="259.5" width="20" height="3" fill="#000" fill-opacity="0.38"/><rect x="1503" y="262.5" width="20" height="3" fill="#000"/><rect x="167" y="144.1" width="20" height="3" fill="#000" fill-opacity="0.38"/><rect x="167" y="147.1" width="20" height="3" fill="#000"/><rect x="1503" y="144.1" width="20" height="3" fill="#000" fill-opacity="0.38"/><rect x="1503" y="147.1" width="20" height="3" fill="#000"/><rect x="167" y="1009.3" width="10" height="3" fill="#000" fill-opacity="0.38"/><rect x="167" y="1012.3" width="10" height="3" fill="#000"/><rect x="1513" y="1009.3" width="10" height="3" fill="#000" fill-opacity="0.38"/><rect x="1513" y="1012.3" width="10" height="3" fill="#000"/><rect x="167" y="894.0" width="10" height="3" fill="#000" fill-opacity="0.38"/><rect x="167" y="897.0" width="10" height="3" fill="#000"/><rect x="1513" y="894.0" width="10" height="3" fill="#000" fill-opacity="0.38"/><rect x="1513" y="897.0" width="10" height="3" fill="#000"/><rect x="167" y="778.6" width="10" height="3" fill="#000" fill-opacity="0.38"/><rect x="167" y="781.6" width="10" height="3" fill="#000"/><rect x="1513" y="778.6" width="10" height="3" fill="#000" fill-opacity="0.38"/><rect x="1513" y="781.6" width="10" height="3" fill="#000"/><rect x="167" y="663.2" width="10" height="3" fill="#000" fill-opacity="0.38"/><rect x="167" y="666.2" width="10" height="3" fill="#000"/><rect x="1513" y="663.2" width="10" height="3" fill="#000" fill-opacity="0.38"/><rect x="1513" y="666.2" width="10" height="3" fill="#000"/><rect x="167" y="547.9" width="10" height="3" fill="#000" fill-opacity="0.38"/><rect x="167" y="550.9" width="10" height="3" fill="#000"/><rect x="1513" y="547.9" width="10" height="3" fill="#000" fill-opacity="0.38"/><rect x="1513" y="550.9" width="10" height="3" fill="#000"/><rect x="167" y="432.5" width="10" height="3" fill="#000" fill-opacity="0.38"/><rect x="167" y="435.5" width="10" height="3" fill="#000"/><rect x="1513" y="432.5" width="10" height="3" fill="#000" fill-opacity="0.38"/><rect x="1513" y="435.5" width="10" height="3" fill="#000"/><rect x="167" y="317.2" width="10" height="3" fill="#000" fill-opacity="0.38"/><rect x="167" y="320.2" width="10" height="3" fill="#000"/><rect x="1513" y="317.2" width="10" height="3" fill="#000" fill-opacity="0.38"/><rect x="1513" y="320.2" width="10" height="3" fill="#000"/><rect x="167" y="201.8" width="10" height="3" fill="#000" fill-opacity="0.38"/><rect x="167" y="204.8" width="10" height="3" fill="#000"/><rect x="1513" y="201.8" width="10" height="3" fill="#000" fill-opacity="0.38"/><rect x="1513" y="204.8" width="10" height="3" fill="#000"/><rect x="167" y="86.4" width="10" height="3" fill="#000" fill-opacity="0.38"/><rect x="167" y="89.4" width="10" height="3" fill="#000"/><rect x="1513" y="86.4" width="10" height="3" fill="#000" fill-opacity="0.38"/><rect x="1513" y="89.4" width="10" height="3" fill="#000"/></g>
<g><rect x="1197.5" y="100.5" width="252" height="219" fill="#fff" stroke="#3c3c3c" stroke-width="3"/><rect x="1204" y="135.5" width="127" height="3.0" fill="#535353" fill-opacity="1"/><rect x="1204" y="138.5" width="127" height="2.5" fill="#535353" fill-opacity="0.5"/><rect x="1204" y="204.5" width="127" height="2.5" fill="#ee4040" fill-opacity="0.35"/><rect x="1204" y="207" width="127" height="3.5" fill="#ee4040" fill-opacity="1"/><rect x="1204" y="210.5" width="127" height="2.5" fill="#ee4040" fill-opacity="0.1"/><rect x="1204" y="273.8" width="127" height="1.6" fill="#1b70de" fill-opacity="0.45"/><rect x="1204" y="275.4" width="127" height="4.1" fill="#1b70de" fill-opacity="1"/></g>
<g font-family="'Liberation Serif','Times New Roman',serif" fill="#000" stroke="#000" stroke-width="0.3" shape-rendering="auto"><text x="143" y="1087.0" text-anchor="end" font-size="48">0.0</text><text x="143" y="971.6" text-anchor="end" font-size="48">0.1</text><text x="143" y="856.3" text-anchor="end" font-size="48">0.2</text><text x="143" y="740.9" text-anchor="end" font-size="48">0.3</text><text x="143" y="625.6" text-anchor="end" font-size="48">0.4</text><text x="143" y="510.2" text-anchor="end" font-size="48">0.5</text><text x="143" y="394.8" text-anchor="end" font-size="48">0.6</text><text x="143" y="279.5" text-anchor="end" font-size="48">0.7</text><text x="143" y="164.1" text-anchor="end" font-size="48">0.8</text><text x="143" y="48.8" text-anchor="end" font-size="48">0.9</text><text x="263.0" y="1186.5" text-anchor="middle" font-size="48">0</text><text x="457.4" y="1186.5" text-anchor="middle" font-size="48">5</text><text x="651.8" y="1186.5" text-anchor="middle" font-size="48">10</text><text x="846.2" y="1186.5" text-anchor="middle" font-size="48">15</text><text x="1040.6" y="1186.5" text-anchor="middle" font-size="48">20</text><text x="1235.0" y="1186.5" text-anchor="middle" font-size="48">25</text><text x="1429.4" y="1186.5" text-anchor="middle" font-size="48">30</text><text x="845.5" y="1276.5" text-anchor="middle" font-size="57">Time (min)</text><text transform="translate(60.5,580) rotate(-90)" x="0" y="0" text-anchor="middle" font-size="57">Coefficient of friction</text><text x="1344.5" y="157.0" font-size="57">CS1</text><text x="1344.5" y="226.8" font-size="57">CS2</text><text x="1344.5" y="296.5" font-size="57">CS3</text></g>
</svg></body></html>
